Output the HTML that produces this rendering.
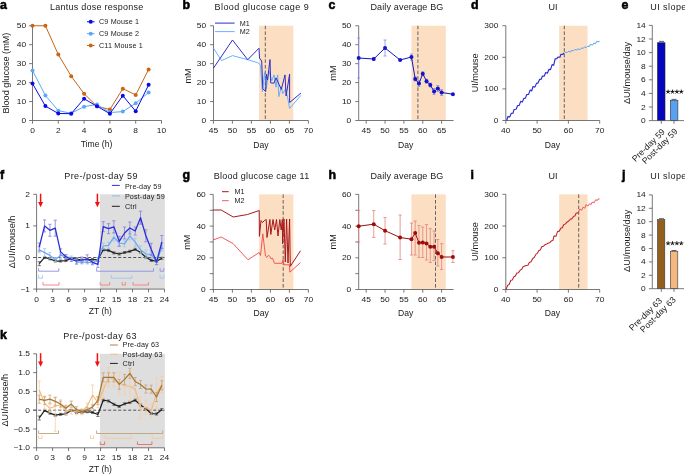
<!DOCTYPE html>
<html><head><meta charset="utf-8"><style>
html,body{margin:0;padding:0;background:#fff;}
svg{display:block;font-family:"Liberation Sans",sans-serif;will-change:transform;}
</style></head><body>
<svg width="685" height="474" viewBox="0 0 685 474">
<rect width="685" height="474" fill="#fff"/>
<text x="0" y="9.2" font-size="12.4" text-anchor="start" fill="#000" font-weight="bold" stroke="#000" stroke-width="0.55">a</text>
<text x="50" y="9.6" font-size="9.0" text-anchor="start" fill="#1a1a1a" font-weight="normal" letter-spacing="0.25" >Lantus dose response</text>
<line x1="32.5" y1="25.75" x2="32.5" y2="120.5" stroke="#555" stroke-width="0.8" />
<line x1="29.1" y1="120.5" x2="32.5" y2="120.5" stroke="#555" stroke-width="0.8" />
<text x="0" y="0" font-size="6.9" text-anchor="end" fill="#1a1a1a" transform="translate(26.2,123) scale(1.22,1)">0</text>
<line x1="29.1" y1="101.55" x2="32.5" y2="101.55" stroke="#555" stroke-width="0.8" />
<text x="0" y="0" font-size="6.9" text-anchor="end" fill="#1a1a1a" transform="translate(26.2,104.05) scale(1.22,1)">10</text>
<line x1="29.1" y1="82.6" x2="32.5" y2="82.6" stroke="#555" stroke-width="0.8" />
<text x="0" y="0" font-size="6.9" text-anchor="end" fill="#1a1a1a" transform="translate(26.2,85.1) scale(1.22,1)">20</text>
<line x1="29.1" y1="63.65" x2="32.5" y2="63.65" stroke="#555" stroke-width="0.8" />
<text x="0" y="0" font-size="6.9" text-anchor="end" fill="#1a1a1a" transform="translate(26.2,66.15) scale(1.22,1)">30</text>
<line x1="29.1" y1="44.7" x2="32.5" y2="44.7" stroke="#555" stroke-width="0.8" />
<text x="0" y="0" font-size="6.9" text-anchor="end" fill="#1a1a1a" transform="translate(26.2,47.2) scale(1.22,1)">40</text>
<line x1="29.1" y1="25.75" x2="32.5" y2="25.75" stroke="#555" stroke-width="0.8" />
<text x="0" y="0" font-size="6.9" text-anchor="end" fill="#1a1a1a" transform="translate(26.2,28.25) scale(1.22,1)">50</text>
<line x1="32.5" y1="120.5" x2="161.5" y2="120.5" stroke="#555" stroke-width="0.8" />
<line x1="32.5" y1="120.5" x2="32.5" y2="123.7" stroke="#555" stroke-width="0.8" />
<text x="0" y="0" font-size="6.9" text-anchor="middle" fill="#1a1a1a" transform="translate(32.5,133.1) scale(1.22,1)">0</text>
<line x1="58.3" y1="120.5" x2="58.3" y2="123.7" stroke="#555" stroke-width="0.8" />
<text x="0" y="0" font-size="6.9" text-anchor="middle" fill="#1a1a1a" transform="translate(58.3,133.1) scale(1.22,1)">2</text>
<line x1="84.1" y1="120.5" x2="84.1" y2="123.7" stroke="#555" stroke-width="0.8" />
<text x="0" y="0" font-size="6.9" text-anchor="middle" fill="#1a1a1a" transform="translate(84.1,133.1) scale(1.22,1)">4</text>
<line x1="109.9" y1="120.5" x2="109.9" y2="123.7" stroke="#555" stroke-width="0.8" />
<text x="0" y="0" font-size="6.9" text-anchor="middle" fill="#1a1a1a" transform="translate(109.9,133.1) scale(1.22,1)">6</text>
<line x1="135.7" y1="120.5" x2="135.7" y2="123.7" stroke="#555" stroke-width="0.8" />
<text x="0" y="0" font-size="6.9" text-anchor="middle" fill="#1a1a1a" transform="translate(135.7,133.1) scale(1.22,1)">8</text>
<line x1="161.5" y1="120.5" x2="161.5" y2="123.7" stroke="#555" stroke-width="0.8" />
<text x="0" y="0" font-size="6.9" text-anchor="middle" fill="#1a1a1a" transform="translate(161.5,133.1) scale(1.22,1)">10</text>
<text x="96.5" y="147" font-size="8.6" text-anchor="middle" fill="#1a1a1a" font-weight="normal" >Time (h)</text>
<text x="0" y="0" font-size="9.1" text-anchor="middle" fill="#1a1a1a" transform="translate(8.9,73.1) rotate(-90)">Blood glucose (mM)</text>
<polyline points="32.5,25.75 45.4,25.75 58.3,54.55 71.2,76.16 84.1,93.78 97,106.29 109.9,109.51 122.8,88.66 135.7,94.92 148.6,69.52" fill="none" stroke="#c86616" stroke-width="1.0" stroke-linejoin="round" />
<circle cx="32.5" cy="25.75" r="2.0" fill="#c86616"/>
<circle cx="45.4" cy="25.75" r="2.0" fill="#c86616"/>
<circle cx="58.3" cy="54.55" r="2.0" fill="#c86616"/>
<circle cx="71.2" cy="76.16" r="2.0" fill="#c86616"/>
<circle cx="84.1" cy="93.78" r="2.0" fill="#c86616"/>
<circle cx="97" cy="106.29" r="2.0" fill="#c86616"/>
<circle cx="109.9" cy="109.51" r="2.0" fill="#c86616"/>
<circle cx="122.8" cy="88.66" r="2.0" fill="#c86616"/>
<circle cx="135.7" cy="94.92" r="2.0" fill="#c86616"/>
<circle cx="148.6" cy="69.52" r="2.0" fill="#c86616"/>
<polyline points="32.5,70.47 45.4,95.49 58.3,110.65 71.2,113.3 84.1,106.67 97,104.58 109.9,112.54 122.8,111.59 135.7,103.26 148.6,92.45" fill="none" stroke="#5aa8f8" stroke-width="1.0" stroke-linejoin="round" />
<circle cx="32.5" cy="70.47" r="2.0" fill="#5aa8f8"/>
<circle cx="45.4" cy="95.49" r="2.0" fill="#5aa8f8"/>
<circle cx="58.3" cy="110.65" r="2.0" fill="#5aa8f8"/>
<circle cx="71.2" cy="113.3" r="2.0" fill="#5aa8f8"/>
<circle cx="84.1" cy="106.67" r="2.0" fill="#5aa8f8"/>
<circle cx="97" cy="104.58" r="2.0" fill="#5aa8f8"/>
<circle cx="109.9" cy="112.54" r="2.0" fill="#5aa8f8"/>
<circle cx="122.8" cy="111.59" r="2.0" fill="#5aa8f8"/>
<circle cx="135.7" cy="103.26" r="2.0" fill="#5aa8f8"/>
<circle cx="148.6" cy="92.45" r="2.0" fill="#5aa8f8"/>
<polyline points="32.5,83.55 45.4,106.1 58.3,113.49 71.2,113.68 84.1,98.71 97,106.29 109.9,113.68 122.8,95.68 135.7,111.21 148.6,84.87" fill="none" stroke="#0a0ae6" stroke-width="1.0" stroke-linejoin="round" />
<circle cx="32.5" cy="83.55" r="2.0" fill="#0a0ae6"/>
<circle cx="45.4" cy="106.1" r="2.0" fill="#0a0ae6"/>
<circle cx="58.3" cy="113.49" r="2.0" fill="#0a0ae6"/>
<circle cx="71.2" cy="113.68" r="2.0" fill="#0a0ae6"/>
<circle cx="84.1" cy="98.71" r="2.0" fill="#0a0ae6"/>
<circle cx="97" cy="106.29" r="2.0" fill="#0a0ae6"/>
<circle cx="109.9" cy="113.68" r="2.0" fill="#0a0ae6"/>
<circle cx="122.8" cy="95.68" r="2.0" fill="#0a0ae6"/>
<circle cx="135.7" cy="111.21" r="2.0" fill="#0a0ae6"/>
<circle cx="148.6" cy="84.87" r="2.0" fill="#0a0ae6"/>
<line x1="87" y1="21.8" x2="94.5" y2="21.8" stroke="#0a0ae6" stroke-width="1.0" />
<circle cx="90.7" cy="21.8" r="2.0" fill="#0a0ae6"/>
<text x="99" y="24.4" font-size="7.2" text-anchor="start" fill="#1a1a1a" font-weight="normal" letter-spacing="0.15" >C9 Mouse 1</text>
<line x1="87" y1="33.65" x2="94.5" y2="33.65" stroke="#5aa8f8" stroke-width="1.0" />
<circle cx="90.7" cy="33.65" r="2.0" fill="#5aa8f8"/>
<text x="99" y="36.25" font-size="7.2" text-anchor="start" fill="#1a1a1a" font-weight="normal" letter-spacing="0.15" >C9 Mouse 2</text>
<line x1="87" y1="45.5" x2="94.5" y2="45.5" stroke="#c86616" stroke-width="1.0" />
<circle cx="90.7" cy="45.5" r="2.0" fill="#c86616"/>
<text x="99" y="48.1" font-size="7.2" text-anchor="start" fill="#1a1a1a" font-weight="normal" letter-spacing="0.15" >C11 Mouse 1</text>
<text x="182.6" y="9.2" font-size="12.4" text-anchor="start" fill="#000" font-weight="bold" stroke="#000" stroke-width="0.55">b</text>
<text x="214.6" y="9.6" font-size="9.0" text-anchor="start" fill="#1a1a1a" font-weight="normal" letter-spacing="0.42" >Blood glucose cage 9</text>
<rect x="259" y="25.75" width="34.3" height="94.75" fill="#fcdec2" />
<line x1="265.3" y1="25.75" x2="265.3" y2="120.5" stroke="#555" stroke-width="0.9" stroke-dasharray="3.6,2"/>
<line x1="213.5" y1="25.75" x2="213.5" y2="120.5" stroke="#555" stroke-width="0.8" />
<line x1="210.1" y1="120.5" x2="213.5" y2="120.5" stroke="#555" stroke-width="0.8" />
<text x="0" y="0" font-size="6.9" text-anchor="end" fill="#1a1a1a" transform="translate(206.1,123) scale(1.22,1)">0</text>
<line x1="210.1" y1="101.55" x2="213.5" y2="101.55" stroke="#555" stroke-width="0.8" />
<text x="0" y="0" font-size="6.9" text-anchor="end" fill="#1a1a1a" transform="translate(206.1,104.05) scale(1.22,1)">10</text>
<line x1="210.1" y1="82.6" x2="213.5" y2="82.6" stroke="#555" stroke-width="0.8" />
<text x="0" y="0" font-size="6.9" text-anchor="end" fill="#1a1a1a" transform="translate(206.1,85.1) scale(1.22,1)">20</text>
<line x1="210.1" y1="63.65" x2="213.5" y2="63.65" stroke="#555" stroke-width="0.8" />
<text x="0" y="0" font-size="6.9" text-anchor="end" fill="#1a1a1a" transform="translate(206.1,66.15) scale(1.22,1)">30</text>
<line x1="210.1" y1="44.7" x2="213.5" y2="44.7" stroke="#555" stroke-width="0.8" />
<text x="0" y="0" font-size="6.9" text-anchor="end" fill="#1a1a1a" transform="translate(206.1,47.2) scale(1.22,1)">40</text>
<line x1="210.1" y1="25.75" x2="213.5" y2="25.75" stroke="#555" stroke-width="0.8" />
<text x="0" y="0" font-size="6.9" text-anchor="end" fill="#1a1a1a" transform="translate(206.1,28.25) scale(1.22,1)">50</text>
<line x1="213.5" y1="120.5" x2="308.4" y2="120.5" stroke="#555" stroke-width="0.8" />
<line x1="213.4" y1="120.5" x2="213.4" y2="123.7" stroke="#555" stroke-width="0.8" />
<text x="0" y="0" font-size="6.9" text-anchor="middle" fill="#1a1a1a" transform="translate(213.4,133.1) scale(1.22,1)">45</text>
<line x1="232.4" y1="120.5" x2="232.4" y2="123.7" stroke="#555" stroke-width="0.8" />
<text x="0" y="0" font-size="6.9" text-anchor="middle" fill="#1a1a1a" transform="translate(232.4,133.1) scale(1.22,1)">50</text>
<line x1="251.4" y1="120.5" x2="251.4" y2="123.7" stroke="#555" stroke-width="0.8" />
<text x="0" y="0" font-size="6.9" text-anchor="middle" fill="#1a1a1a" transform="translate(251.4,133.1) scale(1.22,1)">55</text>
<line x1="270.4" y1="120.5" x2="270.4" y2="123.7" stroke="#555" stroke-width="0.8" />
<text x="0" y="0" font-size="6.9" text-anchor="middle" fill="#1a1a1a" transform="translate(270.4,133.1) scale(1.22,1)">60</text>
<line x1="289.4" y1="120.5" x2="289.4" y2="123.7" stroke="#555" stroke-width="0.8" />
<text x="0" y="0" font-size="6.9" text-anchor="middle" fill="#1a1a1a" transform="translate(289.4,133.1) scale(1.22,1)">65</text>
<line x1="308.4" y1="120.5" x2="308.4" y2="123.7" stroke="#555" stroke-width="0.8" />
<text x="0" y="0" font-size="6.9" text-anchor="middle" fill="#1a1a1a" transform="translate(308.4,133.1) scale(1.22,1)">70</text>
<text x="261" y="147.8" font-size="8.6" text-anchor="middle" fill="#1a1a1a" font-weight="normal" >Day</text>
<text x="0" y="0" font-size="9.1" text-anchor="middle" fill="#1a1a1a" transform="translate(191.3,75.9) rotate(-90)">mM</text>
<polyline points="213.5,48.1 221.5,60.6 232.5,55.6 247.7,59.7 258.6,63 260.5,65.4 262.4,91.6 264.6,72.7 266.3,88.7 269,71.2 271.8,80.7 274,74.9 276,87.2 277.7,74.9 278.8,96.7 281.3,86.5 282.8,93.8 285.7,88.7 288.2,100.4 289.6,108.4 301,95.3" fill="none" stroke="#55aaff" stroke-width="0.9" stroke-linejoin="round" />
<polyline points="213.5,68.1 232.5,40 247.7,59.7 259,48.2 259.5,58.1 261.7,61 262.8,88.7 265.7,91.6 266.3,74.1 267.5,80 270,59.6 270.7,82.9 274,83.2 276,77.8 281.3,89.4 285,74.9 286.1,96 289.6,74.1 289.6,102.5 301,93" fill="none" stroke="#2e2ec8" stroke-width="1.0" stroke-linejoin="round" />
<line x1="215" y1="23.1" x2="234.6" y2="23.1" stroke="#2e2ec8" stroke-width="1.0" />
<text x="239.7" y="25.7" font-size="7.2" text-anchor="start" fill="#1a1a1a" font-weight="normal" >M1</text>
<line x1="215" y1="31.6" x2="234.6" y2="31.6" stroke="#55aaff" stroke-width="0.9" />
<text x="239.7" y="34.2" font-size="7.2" text-anchor="start" fill="#1a1a1a" font-weight="normal" >M2</text>
<text x="328.6" y="9.2" font-size="12.4" text-anchor="start" fill="#000" font-weight="bold" stroke="#000" stroke-width="0.55">c</text>
<text x="370.4" y="9.6" font-size="9.0" text-anchor="start" fill="#1a1a1a" font-weight="normal" letter-spacing="0.16" >Daily average BG</text>
<rect x="411.44" y="25.75" width="34.31" height="94.75" fill="#fcdec2" />
<line x1="417.9" y1="25.75" x2="417.9" y2="120.5" stroke="#555" stroke-width="0.9" stroke-dasharray="3.6,2"/>
<line x1="358.7" y1="25.75" x2="358.7" y2="120.5" stroke="#555" stroke-width="0.8" />
<line x1="355.3" y1="120.5" x2="358.7" y2="120.5" stroke="#555" stroke-width="0.8" />
<text x="0" y="0" font-size="6.9" text-anchor="end" fill="#1a1a1a" transform="translate(351.3,123) scale(1.22,1)">0</text>
<line x1="355.3" y1="101.55" x2="358.7" y2="101.55" stroke="#555" stroke-width="0.8" />
<text x="0" y="0" font-size="6.9" text-anchor="end" fill="#1a1a1a" transform="translate(351.3,104.05) scale(1.22,1)">10</text>
<line x1="355.3" y1="82.6" x2="358.7" y2="82.6" stroke="#555" stroke-width="0.8" />
<text x="0" y="0" font-size="6.9" text-anchor="end" fill="#1a1a1a" transform="translate(351.3,85.1) scale(1.22,1)">20</text>
<line x1="355.3" y1="63.65" x2="358.7" y2="63.65" stroke="#555" stroke-width="0.8" />
<text x="0" y="0" font-size="6.9" text-anchor="end" fill="#1a1a1a" transform="translate(351.3,66.15) scale(1.22,1)">30</text>
<line x1="355.3" y1="44.7" x2="358.7" y2="44.7" stroke="#555" stroke-width="0.8" />
<text x="0" y="0" font-size="6.9" text-anchor="end" fill="#1a1a1a" transform="translate(351.3,47.2) scale(1.22,1)">40</text>
<line x1="355.3" y1="25.75" x2="358.7" y2="25.75" stroke="#555" stroke-width="0.8" />
<text x="0" y="0" font-size="6.9" text-anchor="end" fill="#1a1a1a" transform="translate(351.3,28.25) scale(1.22,1)">50</text>
<line x1="358.7" y1="120.5" x2="453.6" y2="120.5" stroke="#555" stroke-width="0.8" />
<line x1="366.2" y1="120.5" x2="366.2" y2="123.7" stroke="#555" stroke-width="0.8" />
<text x="0" y="0" font-size="6.9" text-anchor="middle" fill="#1a1a1a" transform="translate(366.2,133.1) scale(1.22,1)">45</text>
<line x1="385.05" y1="120.5" x2="385.05" y2="123.7" stroke="#555" stroke-width="0.8" />
<text x="0" y="0" font-size="6.9" text-anchor="middle" fill="#1a1a1a" transform="translate(385.05,133.1) scale(1.22,1)">50</text>
<line x1="403.9" y1="120.5" x2="403.9" y2="123.7" stroke="#555" stroke-width="0.8" />
<text x="0" y="0" font-size="6.9" text-anchor="middle" fill="#1a1a1a" transform="translate(403.9,133.1) scale(1.22,1)">55</text>
<line x1="422.75" y1="120.5" x2="422.75" y2="123.7" stroke="#555" stroke-width="0.8" />
<text x="0" y="0" font-size="6.9" text-anchor="middle" fill="#1a1a1a" transform="translate(422.75,133.1) scale(1.22,1)">60</text>
<line x1="441.6" y1="120.5" x2="441.6" y2="123.7" stroke="#555" stroke-width="0.8" />
<text x="0" y="0" font-size="6.9" text-anchor="middle" fill="#1a1a1a" transform="translate(441.6,133.1) scale(1.22,1)">65</text>
<text x="405.6" y="147.8" font-size="8.6" text-anchor="middle" fill="#1a1a1a" font-weight="normal" >Day</text>
<text x="0" y="0" font-size="9.1" text-anchor="middle" fill="#1a1a1a" transform="translate(335.9,73.1) rotate(-90)">mM</text>
<line x1="358.66" y1="38" x2="358.66" y2="78" stroke="#8a8ae4" stroke-width="0.8" />
<line x1="357.16" y1="38" x2="360.16" y2="38" stroke="#8a8ae4" stroke-width="0.8" />
<line x1="357.16" y1="78" x2="360.16" y2="78" stroke="#8a8ae4" stroke-width="0.8" />
<line x1="373.74" y1="57.5" x2="373.74" y2="60.5" stroke="#8a8ae4" stroke-width="0.8" />
<line x1="372.24" y1="57.5" x2="375.24" y2="57.5" stroke="#8a8ae4" stroke-width="0.8" />
<line x1="372.24" y1="60.5" x2="375.24" y2="60.5" stroke="#8a8ae4" stroke-width="0.8" />
<line x1="385.05" y1="40" x2="385.05" y2="56" stroke="#8a8ae4" stroke-width="0.8" />
<line x1="383.55" y1="40" x2="386.55" y2="40" stroke="#8a8ae4" stroke-width="0.8" />
<line x1="383.55" y1="56" x2="386.55" y2="56" stroke="#8a8ae4" stroke-width="0.8" />
<line x1="411.44" y1="54" x2="411.44" y2="60" stroke="#8a8ae4" stroke-width="0.8" />
<line x1="409.94" y1="54" x2="412.94" y2="54" stroke="#8a8ae4" stroke-width="0.8" />
<line x1="409.94" y1="60" x2="412.94" y2="60" stroke="#8a8ae4" stroke-width="0.8" />
<line x1="415.21" y1="77" x2="415.21" y2="81" stroke="#8a8ae4" stroke-width="0.8" />
<line x1="413.71" y1="77" x2="416.71" y2="77" stroke="#8a8ae4" stroke-width="0.8" />
<line x1="413.71" y1="81" x2="416.71" y2="81" stroke="#8a8ae4" stroke-width="0.8" />
<line x1="418.98" y1="80.5" x2="418.98" y2="86.5" stroke="#8a8ae4" stroke-width="0.8" />
<line x1="417.48" y1="80.5" x2="420.48" y2="80.5" stroke="#8a8ae4" stroke-width="0.8" />
<line x1="417.48" y1="86.5" x2="420.48" y2="86.5" stroke="#8a8ae4" stroke-width="0.8" />
<line x1="422.75" y1="71.7" x2="422.75" y2="75.7" stroke="#8a8ae4" stroke-width="0.8" />
<line x1="421.25" y1="71.7" x2="424.25" y2="71.7" stroke="#8a8ae4" stroke-width="0.8" />
<line x1="421.25" y1="75.7" x2="424.25" y2="75.7" stroke="#8a8ae4" stroke-width="0.8" />
<line x1="426.52" y1="79.2" x2="426.52" y2="83.2" stroke="#8a8ae4" stroke-width="0.8" />
<line x1="425.02" y1="79.2" x2="428.02" y2="79.2" stroke="#8a8ae4" stroke-width="0.8" />
<line x1="425.02" y1="83.2" x2="428.02" y2="83.2" stroke="#8a8ae4" stroke-width="0.8" />
<line x1="430.29" y1="83" x2="430.29" y2="87" stroke="#8a8ae4" stroke-width="0.8" />
<line x1="428.79" y1="83" x2="431.79" y2="83" stroke="#8a8ae4" stroke-width="0.8" />
<line x1="428.79" y1="87" x2="431.79" y2="87" stroke="#8a8ae4" stroke-width="0.8" />
<line x1="434.06" y1="88.5" x2="434.06" y2="94.5" stroke="#8a8ae4" stroke-width="0.8" />
<line x1="432.56" y1="88.5" x2="435.56" y2="88.5" stroke="#8a8ae4" stroke-width="0.8" />
<line x1="432.56" y1="94.5" x2="435.56" y2="94.5" stroke="#8a8ae4" stroke-width="0.8" />
<line x1="437.83" y1="85.5" x2="437.83" y2="91.5" stroke="#8a8ae4" stroke-width="0.8" />
<line x1="436.33" y1="85.5" x2="439.33" y2="85.5" stroke="#8a8ae4" stroke-width="0.8" />
<line x1="436.33" y1="91.5" x2="439.33" y2="91.5" stroke="#8a8ae4" stroke-width="0.8" />
<line x1="441.6" y1="89.5" x2="441.6" y2="95.5" stroke="#8a8ae4" stroke-width="0.8" />
<line x1="440.1" y1="89.5" x2="443.1" y2="89.5" stroke="#8a8ae4" stroke-width="0.8" />
<line x1="440.1" y1="95.5" x2="443.1" y2="95.5" stroke="#8a8ae4" stroke-width="0.8" />
<polyline points="358.66,58 373.74,59 385.05,48 400.13,60 411.44,57 415.21,79 418.98,83.5 422.75,73.7 426.52,81.2 430.29,85 434.06,91.5 437.83,88.5 441.6,92.5 452.91,94.2" fill="none" stroke="#1414c4" stroke-width="1.0" stroke-linejoin="round" />
<circle cx="358.66" cy="58" r="2.0" fill="#1414c4"/>
<circle cx="373.74" cy="59" r="2.0" fill="#1414c4"/>
<circle cx="385.05" cy="48" r="2.0" fill="#1414c4"/>
<circle cx="400.13" cy="60" r="2.0" fill="#1414c4"/>
<circle cx="411.44" cy="57" r="2.0" fill="#1414c4"/>
<circle cx="415.21" cy="79" r="2.0" fill="#1414c4"/>
<circle cx="418.98" cy="83.5" r="2.0" fill="#1414c4"/>
<circle cx="422.75" cy="73.7" r="2.0" fill="#1414c4"/>
<circle cx="426.52" cy="81.2" r="2.0" fill="#1414c4"/>
<circle cx="430.29" cy="85" r="2.0" fill="#1414c4"/>
<circle cx="434.06" cy="91.5" r="2.0" fill="#1414c4"/>
<circle cx="437.83" cy="88.5" r="2.0" fill="#1414c4"/>
<circle cx="441.6" cy="92.5" r="2.0" fill="#1414c4"/>
<circle cx="452.91" cy="94.2" r="2.0" fill="#1414c4"/>
<text x="471" y="9.2" font-size="12.4" text-anchor="start" fill="#000" font-weight="bold" stroke="#000" stroke-width="0.55">d</text>
<text x="553" y="9.6" font-size="9.0" text-anchor="middle" fill="#1a1a1a" font-weight="normal" >UI</text>
<rect x="559.17" y="25.75" width="28.33" height="94.75" fill="#fcdec2" />
<line x1="564.3" y1="25.75" x2="564.3" y2="120.5" stroke="#555" stroke-width="0.9" stroke-dasharray="3.6,2"/>
<line x1="505.8" y1="25.7" x2="505.8" y2="120.5" stroke="#555" stroke-width="0.8" />
<line x1="502.4" y1="120.5" x2="505.8" y2="120.5" stroke="#555" stroke-width="0.8" />
<text x="0" y="0" font-size="6.9" text-anchor="end" fill="#1a1a1a" transform="translate(498.4,123) scale(1.22,1)">0</text>
<line x1="502.4" y1="88.9" x2="505.8" y2="88.9" stroke="#555" stroke-width="0.8" />
<text x="0" y="0" font-size="6.9" text-anchor="end" fill="#1a1a1a" transform="translate(498.4,91.4) scale(1.22,1)">100</text>
<line x1="502.4" y1="57.3" x2="505.8" y2="57.3" stroke="#555" stroke-width="0.8" />
<text x="0" y="0" font-size="6.9" text-anchor="end" fill="#1a1a1a" transform="translate(498.4,59.8) scale(1.22,1)">200</text>
<line x1="502.4" y1="25.7" x2="505.8" y2="25.7" stroke="#555" stroke-width="0.8" />
<text x="0" y="0" font-size="6.9" text-anchor="end" fill="#1a1a1a" transform="translate(498.4,28.2) scale(1.22,1)">300</text>
<line x1="505.8" y1="120.5" x2="599.7" y2="120.5" stroke="#555" stroke-width="0.8" />
<line x1="505.8" y1="120.5" x2="505.8" y2="123.7" stroke="#555" stroke-width="0.8" />
<text x="0" y="0" font-size="6.9" text-anchor="middle" fill="#1a1a1a" transform="translate(505.8,133.1) scale(1.22,1)">40</text>
<line x1="537.1" y1="120.5" x2="537.1" y2="123.7" stroke="#555" stroke-width="0.8" />
<text x="0" y="0" font-size="6.9" text-anchor="middle" fill="#1a1a1a" transform="translate(537.1,133.1) scale(1.22,1)">50</text>
<line x1="568.4" y1="120.5" x2="568.4" y2="123.7" stroke="#555" stroke-width="0.8" />
<text x="0" y="0" font-size="6.9" text-anchor="middle" fill="#1a1a1a" transform="translate(568.4,133.1) scale(1.22,1)">60</text>
<line x1="599.7" y1="120.5" x2="599.7" y2="123.7" stroke="#555" stroke-width="0.8" />
<text x="0" y="0" font-size="6.9" text-anchor="middle" fill="#1a1a1a" transform="translate(599.7,133.1) scale(1.22,1)">70</text>
<text x="552.4" y="147.8" font-size="8.6" text-anchor="middle" fill="#1a1a1a" font-weight="normal" >Day</text>
<text x="0" y="0" font-size="9.1" text-anchor="middle" fill="#1a1a1a" transform="translate(478.4,72.8) rotate(-90)">UI/mouse</text>
<polyline points="506.7,120.5 507.81,116.64 509.83,116.83 511.24,113.35 512.96,113.24 514.08,109.46 516.09,109.29 517.67,105.51 519.22,105.37 520.64,101.39 522.35,101.98 523.8,98.4 525.48,98.14 526.64,94.69 528.61,94.33 530.1,90.15 531.74,90.85 532.97,86.47 534.87,87.11 536.48,83.38 538,82.92 539.68,79.31 541.13,79.22 542.45,76.05 544.26,76.09 545.64,72.52 547.39,73.17 548.99,69.32 550.52,69.58 552.12,64.6 553.65,65.28 555.13,58.88 556.78,58.61 557.92,57.07 559.91,57.23 560.9,54.32 563.04,54.35 563.5,53.4 564.3,53.23" fill="none" stroke="#2a2ad2" stroke-width="1.15" stroke-linejoin="round" />
<polyline points="564.3,53.5 565.7,51.92 567.43,52.54 569.05,51.01 570.56,52.11 571.72,50.35 573.69,50.75 574.77,49.5 576.82,50.04 577.77,48.76 579.95,49.7 581.58,47.88 583.08,48.54 584.51,46.87 586.21,47.7 587.87,45.89 589.34,46.69 590.45,44.18 592.47,45.11 593.82,43.14 595.6,43.68 596.54,41.33 598.73,41.9 598.99,41.12 599.3,41.81" fill="none" stroke="#5ca4f2" stroke-width="1.0" stroke-linejoin="round" />
<text x="621.4" y="9.2" font-size="12.4" text-anchor="start" fill="#000" font-weight="bold" stroke="#000" stroke-width="0.55">e</text>
<text x="650.2" y="9.6" font-size="9.0" text-anchor="start" fill="#1a1a1a" font-weight="normal" letter-spacing="0.45" >UI slope</text>
<rect x="657.5" y="42.74" width="7.5" height="77.86" fill="#0606c0" stroke="#222" stroke-width="0.6"/>
<rect x="670.3" y="100.27" width="7.6" height="20.33" fill="#5aa0f0" stroke="#333" stroke-width="0.6"/>
<line x1="659" y1="41.38" x2="664" y2="41.38" stroke="#333" stroke-width="0.8" />
<line x1="671.5" y1="99.38" x2="676.5" y2="99.38" stroke="#333" stroke-width="0.8" />
<line x1="652.3" y1="25.4" x2="652.3" y2="120.6" stroke="#555" stroke-width="0.8" />
<line x1="648.9" y1="120.6" x2="652.3" y2="120.6" stroke="#555" stroke-width="0.8" />
<text x="0" y="0" font-size="6.9" text-anchor="end" fill="#1a1a1a" transform="translate(645.8,123.1) scale(1.22,1)">0</text>
<line x1="648.9" y1="107" x2="652.3" y2="107" stroke="#555" stroke-width="0.8" />
<text x="0" y="0" font-size="6.9" text-anchor="end" fill="#1a1a1a" transform="translate(645.8,109.5) scale(1.22,1)">2</text>
<line x1="648.9" y1="93.4" x2="652.3" y2="93.4" stroke="#555" stroke-width="0.8" />
<text x="0" y="0" font-size="6.9" text-anchor="end" fill="#1a1a1a" transform="translate(645.8,95.9) scale(1.22,1)">4</text>
<line x1="648.9" y1="79.8" x2="652.3" y2="79.8" stroke="#555" stroke-width="0.8" />
<text x="0" y="0" font-size="6.9" text-anchor="end" fill="#1a1a1a" transform="translate(645.8,82.3) scale(1.22,1)">6</text>
<line x1="648.9" y1="66.2" x2="652.3" y2="66.2" stroke="#555" stroke-width="0.8" />
<text x="0" y="0" font-size="6.9" text-anchor="end" fill="#1a1a1a" transform="translate(645.8,68.7) scale(1.22,1)">8</text>
<line x1="648.9" y1="52.6" x2="652.3" y2="52.6" stroke="#555" stroke-width="0.8" />
<text x="0" y="0" font-size="6.9" text-anchor="end" fill="#1a1a1a" transform="translate(645.8,55.1) scale(1.22,1)">10</text>
<line x1="648.9" y1="39" x2="652.3" y2="39" stroke="#555" stroke-width="0.8" />
<text x="0" y="0" font-size="6.9" text-anchor="end" fill="#1a1a1a" transform="translate(645.8,41.5) scale(1.22,1)">12</text>
<line x1="648.9" y1="25.4" x2="652.3" y2="25.4" stroke="#555" stroke-width="0.8" />
<text x="0" y="0" font-size="6.9" text-anchor="end" fill="#1a1a1a" transform="translate(645.8,27.9) scale(1.22,1)">14</text>
<line x1="652.3" y1="120.6" x2="684" y2="120.6" stroke="#555" stroke-width="0.8" />
<line x1="661.3" y1="120.6" x2="661.3" y2="123.8" stroke="#555" stroke-width="0.8" />
<line x1="674" y1="120.6" x2="674" y2="123.8" stroke="#555" stroke-width="0.8" />
<path d="M668.1,91.8 L668.1,90.05 M668.1,91.8 L669.76,91.26 M668.1,91.8 L669.13,93.22 M668.1,91.8 L667.07,93.22 M668.1,91.8 L666.44,91.26 " stroke="#1a1a1a" stroke-width="1.0" stroke-linecap="round" fill="none"/>
<path d="M672.5,91.8 L672.5,90.05 M672.5,91.8 L674.16,91.26 M672.5,91.8 L673.53,93.22 M672.5,91.8 L671.47,93.22 M672.5,91.8 L670.84,91.26 " stroke="#1a1a1a" stroke-width="1.0" stroke-linecap="round" fill="none"/>
<path d="M676.9,91.8 L676.9,90.05 M676.9,91.8 L678.56,91.26 M676.9,91.8 L677.93,93.22 M676.9,91.8 L675.87,93.22 M676.9,91.8 L675.24,91.26 " stroke="#1a1a1a" stroke-width="1.0" stroke-linecap="round" fill="none"/>
<path d="M681.3,91.8 L681.3,90.05 M681.3,91.8 L682.96,91.26 M681.3,91.8 L682.33,93.22 M681.3,91.8 L680.27,93.22 M681.3,91.8 L679.64,91.26 " stroke="#1a1a1a" stroke-width="1.0" stroke-linecap="round" fill="none"/>
<text x="0" y="0" font-size="9.1" text-anchor="middle" fill="#1a1a1a" transform="translate(629.6,73) rotate(-90)">&#916;UI/mouse/day</text>
<text x="0" y="0" font-size="8.7" text-anchor="end" fill="#1a1a1a" transform="translate(665.5,132.3) rotate(-45)">Pre-day 59</text>
<text x="0" y="0" font-size="8.7" text-anchor="end" fill="#1a1a1a" transform="translate(678.2,131.8) rotate(-45)">Post-day 59</text>
<text x="182.6" y="179" font-size="12.4" text-anchor="start" fill="#000" font-weight="bold" stroke="#000" stroke-width="0.55">g</text>
<text x="213.8" y="179.3" font-size="9.0" text-anchor="start" fill="#1a1a1a" font-weight="normal" letter-spacing="0.25" >Blood glucose cage 11</text>
<rect x="259.2" y="194.4" width="34.2" height="95.1" fill="#fcdec2" />
<line x1="283.2" y1="194.4" x2="283.2" y2="289.5" stroke="#555" stroke-width="0.9" stroke-dasharray="3.6,2"/>
<line x1="213.2" y1="194.4" x2="213.2" y2="289.5" stroke="#555" stroke-width="0.8" />
<line x1="209.8" y1="289.5" x2="213.2" y2="289.5" stroke="#555" stroke-width="0.8" />
<text x="0" y="0" font-size="6.9" text-anchor="end" fill="#1a1a1a" transform="translate(205.8,292) scale(1.22,1)">0</text>
<line x1="209.8" y1="273.65" x2="213.2" y2="273.65" stroke="#555" stroke-width="0.8" />
<line x1="209.8" y1="257.8" x2="213.2" y2="257.8" stroke="#555" stroke-width="0.8" />
<text x="0" y="0" font-size="6.9" text-anchor="end" fill="#1a1a1a" transform="translate(205.8,260.3) scale(1.22,1)">20</text>
<line x1="209.8" y1="241.95" x2="213.2" y2="241.95" stroke="#555" stroke-width="0.8" />
<line x1="209.8" y1="226.1" x2="213.2" y2="226.1" stroke="#555" stroke-width="0.8" />
<text x="0" y="0" font-size="6.9" text-anchor="end" fill="#1a1a1a" transform="translate(205.8,228.6) scale(1.22,1)">40</text>
<line x1="209.8" y1="210.25" x2="213.2" y2="210.25" stroke="#555" stroke-width="0.8" />
<line x1="209.8" y1="194.4" x2="213.2" y2="194.4" stroke="#555" stroke-width="0.8" />
<text x="0" y="0" font-size="6.9" text-anchor="end" fill="#1a1a1a" transform="translate(205.8,196.9) scale(1.22,1)">60</text>
<line x1="213.2" y1="289.5" x2="308.4" y2="289.5" stroke="#555" stroke-width="0.8" />
<line x1="213.4" y1="289.5" x2="213.4" y2="292.7" stroke="#555" stroke-width="0.8" />
<text x="0" y="0" font-size="6.9" text-anchor="middle" fill="#1a1a1a" transform="translate(213.4,302.1) scale(1.22,1)">45</text>
<line x1="232.4" y1="289.5" x2="232.4" y2="292.7" stroke="#555" stroke-width="0.8" />
<text x="0" y="0" font-size="6.9" text-anchor="middle" fill="#1a1a1a" transform="translate(232.4,302.1) scale(1.22,1)">50</text>
<line x1="251.4" y1="289.5" x2="251.4" y2="292.7" stroke="#555" stroke-width="0.8" />
<text x="0" y="0" font-size="6.9" text-anchor="middle" fill="#1a1a1a" transform="translate(251.4,302.1) scale(1.22,1)">55</text>
<line x1="270.4" y1="289.5" x2="270.4" y2="292.7" stroke="#555" stroke-width="0.8" />
<text x="0" y="0" font-size="6.9" text-anchor="middle" fill="#1a1a1a" transform="translate(270.4,302.1) scale(1.22,1)">60</text>
<line x1="289.4" y1="289.5" x2="289.4" y2="292.7" stroke="#555" stroke-width="0.8" />
<text x="0" y="0" font-size="6.9" text-anchor="middle" fill="#1a1a1a" transform="translate(289.4,302.1) scale(1.22,1)">65</text>
<line x1="308.4" y1="289.5" x2="308.4" y2="292.7" stroke="#555" stroke-width="0.8" />
<text x="0" y="0" font-size="6.9" text-anchor="middle" fill="#1a1a1a" transform="translate(308.4,302.1) scale(1.22,1)">70</text>
<text x="261.2" y="316.2" font-size="8.6" text-anchor="middle" fill="#1a1a1a" font-weight="normal" >Day</text>
<text x="0" y="0" font-size="9.1" text-anchor="middle" fill="#1a1a1a" transform="translate(189.9,242.2) rotate(-90)">mM</text>
<polyline points="213,240 221.2,237 233.2,243.7 248,259.8 259.2,252.5 260.5,255.5 262.8,233.8 264.5,247.8 265.5,256 267,257.4 268.5,255.2 270,256.7 271,258.9 272.5,258.2 274.5,263.3 282,263.3 283,259.7 284,264.8 289.5,264.8 289.8,272.2 300.5,262.6" fill="none" stroke="#f0484c" stroke-width="0.9" stroke-linejoin="round" />
<polyline points="213,210 221.2,210 233.2,217 247.5,214.5 259.2,210.5 259.4,236.4 261,220.5 262.5,222.5 264.5,220.5 266.2,219.5 267,237.5 269.9,219.5 270.8,234.5 273,219.5 274.7,230 276.5,219.5 278,236 279.8,219.5 281.2,230 282.3,219.5 282.6,243.8 284,219 285.3,262 286.6,219 288,263 289.6,219 290.3,266.3 300.5,250.8" fill="none" stroke="#a8181c" stroke-width="1.0" stroke-linejoin="round" />
<line x1="222" y1="191.7" x2="228.7" y2="191.7" stroke="#a8181c" stroke-width="1.0" />
<text x="234.5" y="194.3" font-size="7.2" text-anchor="start" fill="#1a1a1a" font-weight="normal" >M1</text>
<line x1="222" y1="200.7" x2="228.7" y2="200.7" stroke="#f0484c" stroke-width="0.9" />
<text x="234.5" y="203.3" font-size="7.2" text-anchor="start" fill="#1a1a1a" font-weight="normal" >M2</text>
<text x="328.6" y="179" font-size="12.4" text-anchor="start" fill="#000" font-weight="bold" stroke="#000" stroke-width="0.55">h</text>
<text x="370.4" y="179.3" font-size="9.0" text-anchor="start" fill="#1a1a1a" font-weight="normal" letter-spacing="0.16" >Daily average BG</text>
<rect x="411.44" y="194.4" width="34.31" height="95.1" fill="#fcdec2" />
<line x1="435.5" y1="194.4" x2="435.5" y2="289.5" stroke="#555" stroke-width="0.9" stroke-dasharray="3.6,2"/>
<line x1="358.7" y1="194.4" x2="358.7" y2="289.5" stroke="#555" stroke-width="0.8" />
<line x1="355.3" y1="289.5" x2="358.7" y2="289.5" stroke="#555" stroke-width="0.8" />
<text x="0" y="0" font-size="6.9" text-anchor="end" fill="#1a1a1a" transform="translate(351.3,292) scale(1.22,1)">0</text>
<line x1="355.3" y1="273.65" x2="358.7" y2="273.65" stroke="#555" stroke-width="0.8" />
<line x1="355.3" y1="257.8" x2="358.7" y2="257.8" stroke="#555" stroke-width="0.8" />
<text x="0" y="0" font-size="6.9" text-anchor="end" fill="#1a1a1a" transform="translate(351.3,260.3) scale(1.22,1)">20</text>
<line x1="355.3" y1="241.95" x2="358.7" y2="241.95" stroke="#555" stroke-width="0.8" />
<line x1="355.3" y1="226.1" x2="358.7" y2="226.1" stroke="#555" stroke-width="0.8" />
<text x="0" y="0" font-size="6.9" text-anchor="end" fill="#1a1a1a" transform="translate(351.3,228.6) scale(1.22,1)">40</text>
<line x1="355.3" y1="210.25" x2="358.7" y2="210.25" stroke="#555" stroke-width="0.8" />
<line x1="355.3" y1="194.4" x2="358.7" y2="194.4" stroke="#555" stroke-width="0.8" />
<text x="0" y="0" font-size="6.9" text-anchor="end" fill="#1a1a1a" transform="translate(351.3,196.9) scale(1.22,1)">60</text>
<line x1="358.7" y1="289.5" x2="453.6" y2="289.5" stroke="#555" stroke-width="0.8" />
<line x1="366.2" y1="289.5" x2="366.2" y2="292.7" stroke="#555" stroke-width="0.8" />
<text x="0" y="0" font-size="6.9" text-anchor="middle" fill="#1a1a1a" transform="translate(366.2,302.1) scale(1.22,1)">45</text>
<line x1="385.05" y1="289.5" x2="385.05" y2="292.7" stroke="#555" stroke-width="0.8" />
<text x="0" y="0" font-size="6.9" text-anchor="middle" fill="#1a1a1a" transform="translate(385.05,302.1) scale(1.22,1)">50</text>
<line x1="403.9" y1="289.5" x2="403.9" y2="292.7" stroke="#555" stroke-width="0.8" />
<text x="0" y="0" font-size="6.9" text-anchor="middle" fill="#1a1a1a" transform="translate(403.9,302.1) scale(1.22,1)">55</text>
<line x1="422.75" y1="289.5" x2="422.75" y2="292.7" stroke="#555" stroke-width="0.8" />
<text x="0" y="0" font-size="6.9" text-anchor="middle" fill="#1a1a1a" transform="translate(422.75,302.1) scale(1.22,1)">60</text>
<line x1="441.6" y1="289.5" x2="441.6" y2="292.7" stroke="#555" stroke-width="0.8" />
<text x="0" y="0" font-size="6.9" text-anchor="middle" fill="#1a1a1a" transform="translate(441.6,302.1) scale(1.22,1)">65</text>
<text x="405.6" y="316.2" font-size="8.6" text-anchor="middle" fill="#1a1a1a" font-weight="normal" >Day</text>
<text x="0" y="0" font-size="9.1" text-anchor="middle" fill="#1a1a1a" transform="translate(335.7,241.8) rotate(-90)">mM</text>
<line x1="358.66" y1="210.5" x2="358.66" y2="242" stroke="#e08484" stroke-width="0.8" />
<line x1="357.06" y1="210.5" x2="360.26" y2="210.5" stroke="#e08484" stroke-width="0.8" />
<line x1="357.06" y1="242" x2="360.26" y2="242" stroke="#e08484" stroke-width="0.8" />
<line x1="373.74" y1="210.5" x2="373.74" y2="237.5" stroke="#e08484" stroke-width="0.8" />
<line x1="372.14" y1="210.5" x2="375.34" y2="210.5" stroke="#e08484" stroke-width="0.8" />
<line x1="372.14" y1="237.5" x2="375.34" y2="237.5" stroke="#e08484" stroke-width="0.8" />
<line x1="385.05" y1="217.5" x2="385.05" y2="244" stroke="#e08484" stroke-width="0.8" />
<line x1="383.45" y1="217.5" x2="386.65" y2="217.5" stroke="#e08484" stroke-width="0.8" />
<line x1="383.45" y1="244" x2="386.65" y2="244" stroke="#e08484" stroke-width="0.8" />
<line x1="400.13" y1="215" x2="400.13" y2="259.5" stroke="#e08484" stroke-width="0.8" />
<line x1="398.53" y1="215" x2="401.73" y2="215" stroke="#e08484" stroke-width="0.8" />
<line x1="398.53" y1="259.5" x2="401.73" y2="259.5" stroke="#e08484" stroke-width="0.8" />
<line x1="411.44" y1="223" x2="411.44" y2="255" stroke="#e08484" stroke-width="0.8" />
<line x1="409.84" y1="223" x2="413.04" y2="223" stroke="#e08484" stroke-width="0.8" />
<line x1="409.84" y1="255" x2="413.04" y2="255" stroke="#e08484" stroke-width="0.8" />
<line x1="415.21" y1="221" x2="415.21" y2="255" stroke="#e08484" stroke-width="0.8" />
<line x1="413.61" y1="221" x2="416.81" y2="221" stroke="#e08484" stroke-width="0.8" />
<line x1="413.61" y1="255" x2="416.81" y2="255" stroke="#e08484" stroke-width="0.8" />
<line x1="418.98" y1="225.5" x2="418.98" y2="257.5" stroke="#e08484" stroke-width="0.8" />
<line x1="417.38" y1="225.5" x2="420.58" y2="225.5" stroke="#e08484" stroke-width="0.8" />
<line x1="417.38" y1="257.5" x2="420.58" y2="257.5" stroke="#e08484" stroke-width="0.8" />
<line x1="422.75" y1="227" x2="422.75" y2="257.5" stroke="#e08484" stroke-width="0.8" />
<line x1="421.15" y1="227" x2="424.35" y2="227" stroke="#e08484" stroke-width="0.8" />
<line x1="421.15" y1="257.5" x2="424.35" y2="257.5" stroke="#e08484" stroke-width="0.8" />
<line x1="426.52" y1="224.5" x2="426.52" y2="260" stroke="#e08484" stroke-width="0.8" />
<line x1="424.92" y1="224.5" x2="428.12" y2="224.5" stroke="#e08484" stroke-width="0.8" />
<line x1="424.92" y1="260" x2="428.12" y2="260" stroke="#e08484" stroke-width="0.8" />
<line x1="430.29" y1="228.7" x2="430.29" y2="262.5" stroke="#e08484" stroke-width="0.8" />
<line x1="428.69" y1="228.7" x2="431.89" y2="228.7" stroke="#e08484" stroke-width="0.8" />
<line x1="428.69" y1="262.5" x2="431.89" y2="262.5" stroke="#e08484" stroke-width="0.8" />
<line x1="434.06" y1="231" x2="434.06" y2="260.5" stroke="#e08484" stroke-width="0.8" />
<line x1="432.46" y1="231" x2="435.66" y2="231" stroke="#e08484" stroke-width="0.8" />
<line x1="432.46" y1="260.5" x2="435.66" y2="260.5" stroke="#e08484" stroke-width="0.8" />
<line x1="437.83" y1="239.5" x2="437.83" y2="266" stroke="#e08484" stroke-width="0.8" />
<line x1="436.23" y1="239.5" x2="439.43" y2="239.5" stroke="#e08484" stroke-width="0.8" />
<line x1="436.23" y1="266" x2="439.43" y2="266" stroke="#e08484" stroke-width="0.8" />
<line x1="441.6" y1="243.7" x2="441.6" y2="269.5" stroke="#e08484" stroke-width="0.8" />
<line x1="440" y1="243.7" x2="443.2" y2="243.7" stroke="#e08484" stroke-width="0.8" />
<line x1="440" y1="269.5" x2="443.2" y2="269.5" stroke="#e08484" stroke-width="0.8" />
<line x1="452.91" y1="250.7" x2="452.91" y2="262.5" stroke="#e08484" stroke-width="0.8" />
<line x1="451.31" y1="250.7" x2="454.51" y2="250.7" stroke="#e08484" stroke-width="0.8" />
<line x1="451.31" y1="262.5" x2="454.51" y2="262.5" stroke="#e08484" stroke-width="0.8" />
<polyline points="358.66,226.2 373.74,224.2 385.05,230.7 400.13,237.5 411.44,239.2 415.21,233.1 418.98,242.8 422.75,242.5 426.52,243.5 430.29,246.7 434.06,246.7 437.83,253.2 441.6,257 452.91,257" fill="none" stroke="#9c0c0c" stroke-width="1.0" stroke-linejoin="round" />
<circle cx="358.66" cy="226.2" r="2.0" fill="#9c0c0c"/>
<circle cx="373.74" cy="224.2" r="2.0" fill="#9c0c0c"/>
<circle cx="385.05" cy="230.7" r="2.0" fill="#9c0c0c"/>
<circle cx="400.13" cy="237.5" r="2.0" fill="#9c0c0c"/>
<circle cx="411.44" cy="239.2" r="2.0" fill="#9c0c0c"/>
<circle cx="415.21" cy="233.1" r="2.0" fill="#9c0c0c"/>
<circle cx="418.98" cy="242.8" r="2.0" fill="#9c0c0c"/>
<circle cx="422.75" cy="242.5" r="2.0" fill="#9c0c0c"/>
<circle cx="426.52" cy="243.5" r="2.0" fill="#9c0c0c"/>
<circle cx="430.29" cy="246.7" r="2.0" fill="#9c0c0c"/>
<circle cx="434.06" cy="246.7" r="2.0" fill="#9c0c0c"/>
<circle cx="437.83" cy="253.2" r="2.0" fill="#9c0c0c"/>
<circle cx="441.6" cy="257" r="2.0" fill="#9c0c0c"/>
<circle cx="452.91" cy="257" r="2.0" fill="#9c0c0c"/>
<text x="470.6" y="179" font-size="12.4" text-anchor="start" fill="#000" font-weight="bold" stroke="#000" stroke-width="0.55">i</text>
<text x="553" y="179.3" font-size="9.0" text-anchor="middle" fill="#1a1a1a" font-weight="normal" >UI</text>
<rect x="559.17" y="194.4" width="28.33" height="95.1" fill="#fcdec2" />
<line x1="578.7" y1="194.4" x2="578.7" y2="289.5" stroke="#555" stroke-width="0.9" stroke-dasharray="3.6,2"/>
<line x1="505.8" y1="194.31" x2="505.8" y2="289.5" stroke="#555" stroke-width="0.8" />
<line x1="502.4" y1="289.5" x2="505.8" y2="289.5" stroke="#555" stroke-width="0.8" />
<text x="0" y="0" font-size="6.9" text-anchor="end" fill="#1a1a1a" transform="translate(498.4,292) scale(1.22,1)">0</text>
<line x1="502.4" y1="257.77" x2="505.8" y2="257.77" stroke="#555" stroke-width="0.8" />
<text x="0" y="0" font-size="6.9" text-anchor="end" fill="#1a1a1a" transform="translate(498.4,260.27) scale(1.22,1)">100</text>
<line x1="502.4" y1="226.04" x2="505.8" y2="226.04" stroke="#555" stroke-width="0.8" />
<text x="0" y="0" font-size="6.9" text-anchor="end" fill="#1a1a1a" transform="translate(498.4,228.54) scale(1.22,1)">200</text>
<line x1="502.4" y1="194.31" x2="505.8" y2="194.31" stroke="#555" stroke-width="0.8" />
<text x="0" y="0" font-size="6.9" text-anchor="end" fill="#1a1a1a" transform="translate(498.4,196.81) scale(1.22,1)">300</text>
<line x1="505.8" y1="289.5" x2="599.7" y2="289.5" stroke="#555" stroke-width="0.8" />
<line x1="505.8" y1="289.5" x2="505.8" y2="292.7" stroke="#555" stroke-width="0.8" />
<text x="0" y="0" font-size="6.9" text-anchor="middle" fill="#1a1a1a" transform="translate(505.8,302.1) scale(1.22,1)">40</text>
<line x1="537.1" y1="289.5" x2="537.1" y2="292.7" stroke="#555" stroke-width="0.8" />
<text x="0" y="0" font-size="6.9" text-anchor="middle" fill="#1a1a1a" transform="translate(537.1,302.1) scale(1.22,1)">50</text>
<line x1="568.4" y1="289.5" x2="568.4" y2="292.7" stroke="#555" stroke-width="0.8" />
<text x="0" y="0" font-size="6.9" text-anchor="middle" fill="#1a1a1a" transform="translate(568.4,302.1) scale(1.22,1)">60</text>
<line x1="599.7" y1="289.5" x2="599.7" y2="292.7" stroke="#555" stroke-width="0.8" />
<text x="0" y="0" font-size="6.9" text-anchor="middle" fill="#1a1a1a" transform="translate(599.7,302.1) scale(1.22,1)">70</text>
<text x="552.4" y="316.2" font-size="8.6" text-anchor="middle" fill="#1a1a1a" font-weight="normal" >Day</text>
<text x="0" y="0" font-size="9.1" text-anchor="middle" fill="#1a1a1a" transform="translate(478,241.6) rotate(-90)">UI/mouse</text>
<polyline points="506,289.5 507.76,285.15 509.13,284.52 510.86,280.21 512.26,280.04 513.91,276.83 515.39,276.07 516.83,273.09 518.52,272.64 520.34,270.04 521.65,269.38 523.04,266.76 524.78,266.03 526.05,265.53 527.91,265.18 529.31,262.43 531.04,261.8 532.94,258.29 534.17,257.49 536.1,254.08 537.3,253.32 538.89,250.44 540.43,249.89 541.7,246.73 543.56,246.19 545.41,244.41 546.69,243.96 548.53,242.98 549.82,242.69 551.31,240.88 552.95,240.35 554.05,235.98 556.08,236.11 557.58,231.45 559.21,231.13 561.01,227.91 562.34,227.71 563.71,224.73 565.47,223.9 567.12,221.94 568.6,221.2 570.54,219.02 571.73,219.03 573.67,216.17 574.86,215.99 576.12,213.25 577.99,212.72 578.28,212.12 578.6,212" fill="none" stroke="#be2222" stroke-width="1.05" stroke-linejoin="round" />
<polyline points="578.6,212.1 579.72,209.11 581.73,210.18 582.93,207.33 584.86,208.12 585.92,204.72 587.99,206.02 589.56,203.73 591.12,204.55 592.08,202.21 594.25,202.72 595.5,199.84 597.38,200.41 598.06,198.93 599.6,199.04" fill="none" stroke="#f05a5a" stroke-width="1.0" stroke-linejoin="round" />
<text x="622.1" y="179" font-size="12.4" text-anchor="start" fill="#000" font-weight="bold" stroke="#000" stroke-width="0.55">j</text>
<text x="650.2" y="179.3" font-size="9.0" text-anchor="start" fill="#1a1a1a" font-weight="normal" letter-spacing="0.45" >UI slope</text>
<rect x="657.5" y="219.69" width="7.3" height="69.01" fill="#925f1f" stroke="#3a3a3a" stroke-width="0.6"/>
<rect x="670.3" y="251.51" width="7.5" height="37.19" fill="#f2b87f" stroke="#3a3a3a" stroke-width="0.6"/>
<line x1="659" y1="218.69" x2="664" y2="218.69" stroke="#333" stroke-width="0.8" />
<line x1="671.5" y1="250.51" x2="676.5" y2="250.51" stroke="#333" stroke-width="0.8" />
<line x1="652.3" y1="194.9" x2="652.3" y2="288.7" stroke="#555" stroke-width="0.8" />
<line x1="648.9" y1="288.7" x2="652.3" y2="288.7" stroke="#555" stroke-width="0.8" />
<text x="0" y="0" font-size="6.9" text-anchor="end" fill="#1a1a1a" transform="translate(645.8,291.2) scale(1.22,1)">0</text>
<line x1="648.9" y1="275.3" x2="652.3" y2="275.3" stroke="#555" stroke-width="0.8" />
<text x="0" y="0" font-size="6.9" text-anchor="end" fill="#1a1a1a" transform="translate(645.8,277.8) scale(1.22,1)">2</text>
<line x1="648.9" y1="261.9" x2="652.3" y2="261.9" stroke="#555" stroke-width="0.8" />
<text x="0" y="0" font-size="6.9" text-anchor="end" fill="#1a1a1a" transform="translate(645.8,264.4) scale(1.22,1)">4</text>
<line x1="648.9" y1="248.5" x2="652.3" y2="248.5" stroke="#555" stroke-width="0.8" />
<text x="0" y="0" font-size="6.9" text-anchor="end" fill="#1a1a1a" transform="translate(645.8,251) scale(1.22,1)">6</text>
<line x1="648.9" y1="235.1" x2="652.3" y2="235.1" stroke="#555" stroke-width="0.8" />
<text x="0" y="0" font-size="6.9" text-anchor="end" fill="#1a1a1a" transform="translate(645.8,237.6) scale(1.22,1)">8</text>
<line x1="648.9" y1="221.7" x2="652.3" y2="221.7" stroke="#555" stroke-width="0.8" />
<text x="0" y="0" font-size="6.9" text-anchor="end" fill="#1a1a1a" transform="translate(645.8,224.2) scale(1.22,1)">10</text>
<line x1="648.9" y1="208.3" x2="652.3" y2="208.3" stroke="#555" stroke-width="0.8" />
<text x="0" y="0" font-size="6.9" text-anchor="end" fill="#1a1a1a" transform="translate(645.8,210.8) scale(1.22,1)">12</text>
<line x1="648.9" y1="194.9" x2="652.3" y2="194.9" stroke="#555" stroke-width="0.8" />
<text x="0" y="0" font-size="6.9" text-anchor="end" fill="#1a1a1a" transform="translate(645.8,197.4) scale(1.22,1)">14</text>
<line x1="652.3" y1="288.7" x2="684" y2="288.7" stroke="#555" stroke-width="0.8" />
<line x1="661.3" y1="288.7" x2="661.3" y2="291.9" stroke="#555" stroke-width="0.8" />
<line x1="674" y1="288.7" x2="674" y2="291.9" stroke="#555" stroke-width="0.8" />
<path d="M668.1,243.4 L668.1,241.65 M668.1,243.4 L669.76,242.86 M668.1,243.4 L669.13,244.82 M668.1,243.4 L667.07,244.82 M668.1,243.4 L666.44,242.86 " stroke="#1a1a1a" stroke-width="1.0" stroke-linecap="round" fill="none"/>
<path d="M672.5,243.4 L672.5,241.65 M672.5,243.4 L674.16,242.86 M672.5,243.4 L673.53,244.82 M672.5,243.4 L671.47,244.82 M672.5,243.4 L670.84,242.86 " stroke="#1a1a1a" stroke-width="1.0" stroke-linecap="round" fill="none"/>
<path d="M676.9,243.4 L676.9,241.65 M676.9,243.4 L678.56,242.86 M676.9,243.4 L677.93,244.82 M676.9,243.4 L675.87,244.82 M676.9,243.4 L675.24,242.86 " stroke="#1a1a1a" stroke-width="1.0" stroke-linecap="round" fill="none"/>
<path d="M681.3,243.4 L681.3,241.65 M681.3,243.4 L682.96,242.86 M681.3,243.4 L682.33,244.82 M681.3,243.4 L680.27,244.82 M681.3,243.4 L679.64,242.86 " stroke="#1a1a1a" stroke-width="1.0" stroke-linecap="round" fill="none"/>
<text x="0" y="0" font-size="9.1" text-anchor="middle" fill="#1a1a1a" transform="translate(629.6,240.8) rotate(-90)">&#916;UI/mouse/day</text>
<text x="0" y="0" font-size="8.7" text-anchor="end" fill="#1a1a1a" transform="translate(662.6,301.3) rotate(-45)">Pre-day 63</text>
<text x="0" y="0" font-size="8.7" text-anchor="end" fill="#1a1a1a" transform="translate(676.4,300.3) rotate(-45)">Post-day 63</text>
<text x="64.2" y="179.4" font-size="9.0" text-anchor="start" fill="#1a1a1a" font-weight="normal" letter-spacing="0.45" >Pre-/post-day 59</text>
<rect x="100" y="194.3" width="64.9" height="94.8" fill="#dedede" />
<line x1="33.2" y1="257.5" x2="164.52" y2="257.5" stroke="#4a4a4a" stroke-width="0.95" stroke-dasharray="3,2"/>
<line x1="40.6" y1="193.7" x2="40.6" y2="202.8" stroke="#f41010" stroke-width="1.5" />
<path d="M38.1,201.9 L43.1,201.9 L40.6,207.2 Z" fill="#f41010"/>
<line x1="97.4" y1="193.7" x2="97.4" y2="202.8" stroke="#f41010" stroke-width="1.5" />
<path d="M94.9,201.9 L99.9,201.9 L97.4,207.2 Z" fill="#f41010"/>
<line x1="36.6" y1="194.3" x2="36.6" y2="289.1" stroke="#555" stroke-width="0.8" />
<line x1="33.2" y1="194.3" x2="36.6" y2="194.3" stroke="#555" stroke-width="0.8" />
<text x="0" y="0" font-size="6.9" text-anchor="end" fill="#1a1a1a" transform="translate(29.9,196.8) scale(1.22,1)">2</text>
<line x1="33.2" y1="225.9" x2="36.6" y2="225.9" stroke="#555" stroke-width="0.8" />
<text x="0" y="0" font-size="6.9" text-anchor="end" fill="#1a1a1a" transform="translate(29.9,228.4) scale(1.22,1)">1</text>
<line x1="33.2" y1="257.5" x2="36.6" y2="257.5" stroke="#555" stroke-width="0.8" />
<text x="0" y="0" font-size="6.9" text-anchor="end" fill="#1a1a1a" transform="translate(29.9,260) scale(1.22,1)">0</text>
<line x1="33.2" y1="289.1" x2="36.6" y2="289.1" stroke="#555" stroke-width="0.8" />
<text x="0" y="0" font-size="6.9" text-anchor="end" fill="#1a1a1a" transform="translate(29.9,291.6) scale(1.22,1)">&#8722;1</text>
<line x1="36.6" y1="289.1" x2="164.52" y2="289.1" stroke="#555" stroke-width="0.8" />
<line x1="36.6" y1="289.1" x2="36.6" y2="292.3" stroke="#555" stroke-width="0.8" />
<text x="0" y="0" font-size="6.9" text-anchor="middle" fill="#1a1a1a" transform="translate(36.6,301.7) scale(1.22,1)">0</text>
<line x1="52.59" y1="289.1" x2="52.59" y2="292.3" stroke="#555" stroke-width="0.8" />
<text x="0" y="0" font-size="6.9" text-anchor="middle" fill="#1a1a1a" transform="translate(52.59,301.7) scale(1.22,1)">3</text>
<line x1="68.58" y1="289.1" x2="68.58" y2="292.3" stroke="#555" stroke-width="0.8" />
<text x="0" y="0" font-size="6.9" text-anchor="middle" fill="#1a1a1a" transform="translate(68.58,301.7) scale(1.22,1)">6</text>
<line x1="84.57" y1="289.1" x2="84.57" y2="292.3" stroke="#555" stroke-width="0.8" />
<text x="0" y="0" font-size="6.9" text-anchor="middle" fill="#1a1a1a" transform="translate(84.57,301.7) scale(1.22,1)">9</text>
<line x1="100.56" y1="289.1" x2="100.56" y2="292.3" stroke="#555" stroke-width="0.8" />
<text x="0" y="0" font-size="6.9" text-anchor="middle" fill="#1a1a1a" transform="translate(100.56,301.7) scale(1.22,1)">12</text>
<line x1="116.55" y1="289.1" x2="116.55" y2="292.3" stroke="#555" stroke-width="0.8" />
<text x="0" y="0" font-size="6.9" text-anchor="middle" fill="#1a1a1a" transform="translate(116.55,301.7) scale(1.22,1)">15</text>
<line x1="132.54" y1="289.1" x2="132.54" y2="292.3" stroke="#555" stroke-width="0.8" />
<text x="0" y="0" font-size="6.9" text-anchor="middle" fill="#1a1a1a" transform="translate(132.54,301.7) scale(1.22,1)">18</text>
<line x1="148.53" y1="289.1" x2="148.53" y2="292.3" stroke="#555" stroke-width="0.8" />
<text x="0" y="0" font-size="6.9" text-anchor="middle" fill="#1a1a1a" transform="translate(148.53,301.7) scale(1.22,1)">21</text>
<line x1="164.52" y1="289.1" x2="164.52" y2="292.3" stroke="#555" stroke-width="0.8" />
<text x="0" y="0" font-size="6.9" text-anchor="middle" fill="#1a1a1a" transform="translate(164.52,301.7) scale(1.22,1)">24</text>
<text x="100.3" y="314.4" font-size="8.6" text-anchor="middle" fill="#1a1a1a" font-weight="normal" >ZT (h)</text>
<text x="0" y="0" font-size="9.1" text-anchor="middle" fill="#1a1a1a" transform="translate(14.8,242) rotate(-90)">&#916;UI/mouse/h</text>
<line x1="39.27" y1="261.7" x2="39.27" y2="265.7" stroke="#555" stroke-width="0.8" />
<line x1="37.66" y1="261.7" x2="40.87" y2="261.7" stroke="#555" stroke-width="0.8" />
<line x1="37.66" y1="265.7" x2="40.87" y2="265.7" stroke="#555" stroke-width="0.8" />
<line x1="44.59" y1="256.4" x2="44.59" y2="258.4" stroke="#555" stroke-width="0.8" />
<line x1="42.99" y1="256.4" x2="46.2" y2="256.4" stroke="#555" stroke-width="0.8" />
<line x1="42.99" y1="258.4" x2="46.2" y2="258.4" stroke="#555" stroke-width="0.8" />
<line x1="49.92" y1="257.8" x2="49.92" y2="259.8" stroke="#555" stroke-width="0.8" />
<line x1="48.32" y1="257.8" x2="51.52" y2="257.8" stroke="#555" stroke-width="0.8" />
<line x1="48.32" y1="259.8" x2="51.52" y2="259.8" stroke="#555" stroke-width="0.8" />
<line x1="55.26" y1="260" x2="55.26" y2="262" stroke="#555" stroke-width="0.8" />
<line x1="53.66" y1="260" x2="56.86" y2="260" stroke="#555" stroke-width="0.8" />
<line x1="53.66" y1="262" x2="56.86" y2="262" stroke="#555" stroke-width="0.8" />
<line x1="60.59" y1="260" x2="60.59" y2="262" stroke="#555" stroke-width="0.8" />
<line x1="58.98" y1="260" x2="62.19" y2="260" stroke="#555" stroke-width="0.8" />
<line x1="58.98" y1="262" x2="62.19" y2="262" stroke="#555" stroke-width="0.8" />
<line x1="65.92" y1="259.6" x2="65.92" y2="261.6" stroke="#555" stroke-width="0.8" />
<line x1="64.32" y1="259.6" x2="67.52" y2="259.6" stroke="#555" stroke-width="0.8" />
<line x1="64.32" y1="261.6" x2="67.52" y2="261.6" stroke="#555" stroke-width="0.8" />
<line x1="71.25" y1="257.4" x2="71.25" y2="259.4" stroke="#555" stroke-width="0.8" />
<line x1="69.65" y1="257.4" x2="72.84" y2="257.4" stroke="#555" stroke-width="0.8" />
<line x1="69.65" y1="259.4" x2="72.84" y2="259.4" stroke="#555" stroke-width="0.8" />
<line x1="76.58" y1="258" x2="76.58" y2="260" stroke="#555" stroke-width="0.8" />
<line x1="74.98" y1="258" x2="78.17" y2="258" stroke="#555" stroke-width="0.8" />
<line x1="74.98" y1="260" x2="78.17" y2="260" stroke="#555" stroke-width="0.8" />
<line x1="81.91" y1="259" x2="81.91" y2="261" stroke="#555" stroke-width="0.8" />
<line x1="80.31" y1="259" x2="83.5" y2="259" stroke="#555" stroke-width="0.8" />
<line x1="80.31" y1="261" x2="83.5" y2="261" stroke="#555" stroke-width="0.8" />
<line x1="87.23" y1="258.5" x2="87.23" y2="260.5" stroke="#555" stroke-width="0.8" />
<line x1="85.64" y1="258.5" x2="88.83" y2="258.5" stroke="#555" stroke-width="0.8" />
<line x1="85.64" y1="260.5" x2="88.83" y2="260.5" stroke="#555" stroke-width="0.8" />
<line x1="92.56" y1="258.5" x2="92.56" y2="260.5" stroke="#555" stroke-width="0.8" />
<line x1="90.97" y1="258.5" x2="94.16" y2="258.5" stroke="#555" stroke-width="0.8" />
<line x1="90.97" y1="260.5" x2="94.16" y2="260.5" stroke="#555" stroke-width="0.8" />
<line x1="97.9" y1="257.5" x2="97.9" y2="261.5" stroke="#555" stroke-width="0.8" />
<line x1="96.3" y1="257.5" x2="99.5" y2="257.5" stroke="#555" stroke-width="0.8" />
<line x1="96.3" y1="261.5" x2="99.5" y2="261.5" stroke="#555" stroke-width="0.8" />
<line x1="103.22" y1="248.8" x2="103.22" y2="250.8" stroke="#555" stroke-width="0.8" />
<line x1="101.62" y1="248.8" x2="104.82" y2="248.8" stroke="#555" stroke-width="0.8" />
<line x1="101.62" y1="250.8" x2="104.82" y2="250.8" stroke="#555" stroke-width="0.8" />
<line x1="108.56" y1="249.4" x2="108.56" y2="251.4" stroke="#555" stroke-width="0.8" />
<line x1="106.96" y1="249.4" x2="110.16" y2="249.4" stroke="#555" stroke-width="0.8" />
<line x1="106.96" y1="251.4" x2="110.16" y2="251.4" stroke="#555" stroke-width="0.8" />
<line x1="113.88" y1="251.9" x2="113.88" y2="253.9" stroke="#555" stroke-width="0.8" />
<line x1="112.28" y1="251.9" x2="115.48" y2="251.9" stroke="#555" stroke-width="0.8" />
<line x1="112.28" y1="253.9" x2="115.48" y2="253.9" stroke="#555" stroke-width="0.8" />
<line x1="119.22" y1="253" x2="119.22" y2="255" stroke="#555" stroke-width="0.8" />
<line x1="117.62" y1="253" x2="120.81" y2="253" stroke="#555" stroke-width="0.8" />
<line x1="117.62" y1="255" x2="120.81" y2="255" stroke="#555" stroke-width="0.8" />
<line x1="124.55" y1="251.5" x2="124.55" y2="253.5" stroke="#555" stroke-width="0.8" />
<line x1="122.95" y1="251.5" x2="126.15" y2="251.5" stroke="#555" stroke-width="0.8" />
<line x1="122.95" y1="253.5" x2="126.15" y2="253.5" stroke="#555" stroke-width="0.8" />
<line x1="129.88" y1="250.3" x2="129.88" y2="252.3" stroke="#555" stroke-width="0.8" />
<line x1="128.28" y1="250.3" x2="131.47" y2="250.3" stroke="#555" stroke-width="0.8" />
<line x1="128.28" y1="252.3" x2="131.47" y2="252.3" stroke="#555" stroke-width="0.8" />
<line x1="135.21" y1="248.3" x2="135.21" y2="250.3" stroke="#555" stroke-width="0.8" />
<line x1="133.61" y1="248.3" x2="136.81" y2="248.3" stroke="#555" stroke-width="0.8" />
<line x1="133.61" y1="250.3" x2="136.81" y2="250.3" stroke="#555" stroke-width="0.8" />
<line x1="140.53" y1="251.5" x2="140.53" y2="253.5" stroke="#555" stroke-width="0.8" />
<line x1="138.94" y1="251.5" x2="142.13" y2="251.5" stroke="#555" stroke-width="0.8" />
<line x1="138.94" y1="253.5" x2="142.13" y2="253.5" stroke="#555" stroke-width="0.8" />
<line x1="145.87" y1="256.2" x2="145.87" y2="258.2" stroke="#555" stroke-width="0.8" />
<line x1="144.27" y1="256.2" x2="147.47" y2="256.2" stroke="#555" stroke-width="0.8" />
<line x1="144.27" y1="258.2" x2="147.47" y2="258.2" stroke="#555" stroke-width="0.8" />
<line x1="151.19" y1="259.4" x2="151.19" y2="261.4" stroke="#555" stroke-width="0.8" />
<line x1="149.59" y1="259.4" x2="152.79" y2="259.4" stroke="#555" stroke-width="0.8" />
<line x1="149.59" y1="261.4" x2="152.79" y2="261.4" stroke="#555" stroke-width="0.8" />
<line x1="156.53" y1="260.1" x2="156.53" y2="262.1" stroke="#555" stroke-width="0.8" />
<line x1="154.93" y1="260.1" x2="158.12" y2="260.1" stroke="#555" stroke-width="0.8" />
<line x1="154.93" y1="262.1" x2="158.12" y2="262.1" stroke="#555" stroke-width="0.8" />
<line x1="161.85" y1="257.3" x2="161.85" y2="259.3" stroke="#555" stroke-width="0.8" />
<line x1="160.25" y1="257.3" x2="163.45" y2="257.3" stroke="#555" stroke-width="0.8" />
<line x1="160.25" y1="259.3" x2="163.45" y2="259.3" stroke="#555" stroke-width="0.8" />
<polyline points="39.27,263.7 44.59,257.4 49.92,258.8 55.26,261 60.59,261 65.92,260.6 71.25,258.4 76.58,259 81.91,260 87.23,259.5 92.56,259.5 97.9,259.5 103.22,249.8 108.56,250.4 113.88,252.9 119.22,254 124.55,252.5 129.88,251.3 135.21,249.3 140.53,252.5 145.87,257.2 151.19,260.4 156.53,261.1 161.85,258.3" fill="none" stroke="#1e1e1e" stroke-width="1.25" stroke-linejoin="round" />
<line x1="39.27" y1="246.8" x2="39.27" y2="252.8" stroke="#a0c8f2" stroke-width="0.8" />
<line x1="37.66" y1="246.8" x2="40.87" y2="246.8" stroke="#a0c8f2" stroke-width="0.8" />
<line x1="37.66" y1="252.8" x2="40.87" y2="252.8" stroke="#a0c8f2" stroke-width="0.8" />
<line x1="44.59" y1="248.6" x2="44.59" y2="256.6" stroke="#a0c8f2" stroke-width="0.8" />
<line x1="42.99" y1="248.6" x2="46.2" y2="248.6" stroke="#a0c8f2" stroke-width="0.8" />
<line x1="42.99" y1="256.6" x2="46.2" y2="256.6" stroke="#a0c8f2" stroke-width="0.8" />
<line x1="49.92" y1="252.4" x2="49.92" y2="258.4" stroke="#a0c8f2" stroke-width="0.8" />
<line x1="48.32" y1="252.4" x2="51.52" y2="252.4" stroke="#a0c8f2" stroke-width="0.8" />
<line x1="48.32" y1="258.4" x2="51.52" y2="258.4" stroke="#a0c8f2" stroke-width="0.8" />
<line x1="55.26" y1="257.5" x2="55.26" y2="261.5" stroke="#a0c8f2" stroke-width="0.8" />
<line x1="53.66" y1="257.5" x2="56.86" y2="257.5" stroke="#a0c8f2" stroke-width="0.8" />
<line x1="53.66" y1="261.5" x2="56.86" y2="261.5" stroke="#a0c8f2" stroke-width="0.8" />
<line x1="60.59" y1="252.4" x2="60.59" y2="258.4" stroke="#a0c8f2" stroke-width="0.8" />
<line x1="58.98" y1="252.4" x2="62.19" y2="252.4" stroke="#a0c8f2" stroke-width="0.8" />
<line x1="58.98" y1="258.4" x2="62.19" y2="258.4" stroke="#a0c8f2" stroke-width="0.8" />
<line x1="65.92" y1="254.7" x2="65.92" y2="258.7" stroke="#a0c8f2" stroke-width="0.8" />
<line x1="64.32" y1="254.7" x2="67.52" y2="254.7" stroke="#a0c8f2" stroke-width="0.8" />
<line x1="64.32" y1="258.7" x2="67.52" y2="258.7" stroke="#a0c8f2" stroke-width="0.8" />
<line x1="71.25" y1="256" x2="71.25" y2="260" stroke="#a0c8f2" stroke-width="0.8" />
<line x1="69.65" y1="256" x2="72.84" y2="256" stroke="#a0c8f2" stroke-width="0.8" />
<line x1="69.65" y1="260" x2="72.84" y2="260" stroke="#a0c8f2" stroke-width="0.8" />
<line x1="76.58" y1="260" x2="76.58" y2="264" stroke="#a0c8f2" stroke-width="0.8" />
<line x1="74.98" y1="260" x2="78.17" y2="260" stroke="#a0c8f2" stroke-width="0.8" />
<line x1="74.98" y1="264" x2="78.17" y2="264" stroke="#a0c8f2" stroke-width="0.8" />
<line x1="81.91" y1="260" x2="81.91" y2="264" stroke="#a0c8f2" stroke-width="0.8" />
<line x1="80.31" y1="260" x2="83.5" y2="260" stroke="#a0c8f2" stroke-width="0.8" />
<line x1="80.31" y1="264" x2="83.5" y2="264" stroke="#a0c8f2" stroke-width="0.8" />
<line x1="87.23" y1="260" x2="87.23" y2="264" stroke="#a0c8f2" stroke-width="0.8" />
<line x1="85.64" y1="260" x2="88.83" y2="260" stroke="#a0c8f2" stroke-width="0.8" />
<line x1="85.64" y1="264" x2="88.83" y2="264" stroke="#a0c8f2" stroke-width="0.8" />
<line x1="92.56" y1="261" x2="92.56" y2="265" stroke="#a0c8f2" stroke-width="0.8" />
<line x1="90.97" y1="261" x2="94.16" y2="261" stroke="#a0c8f2" stroke-width="0.8" />
<line x1="90.97" y1="265" x2="94.16" y2="265" stroke="#a0c8f2" stroke-width="0.8" />
<line x1="97.9" y1="257.5" x2="97.9" y2="261.5" stroke="#a0c8f2" stroke-width="0.8" />
<line x1="96.3" y1="257.5" x2="99.5" y2="257.5" stroke="#a0c8f2" stroke-width="0.8" />
<line x1="96.3" y1="261.5" x2="99.5" y2="261.5" stroke="#a0c8f2" stroke-width="0.8" />
<line x1="103.22" y1="243" x2="103.22" y2="249" stroke="#a0c8f2" stroke-width="0.8" />
<line x1="101.62" y1="243" x2="104.82" y2="243" stroke="#a0c8f2" stroke-width="0.8" />
<line x1="101.62" y1="249" x2="104.82" y2="249" stroke="#a0c8f2" stroke-width="0.8" />
<line x1="108.56" y1="242.3" x2="108.56" y2="248.3" stroke="#a0c8f2" stroke-width="0.8" />
<line x1="106.96" y1="242.3" x2="110.16" y2="242.3" stroke="#a0c8f2" stroke-width="0.8" />
<line x1="106.96" y1="248.3" x2="110.16" y2="248.3" stroke="#a0c8f2" stroke-width="0.8" />
<line x1="113.88" y1="233.1" x2="113.88" y2="241.1" stroke="#a0c8f2" stroke-width="0.8" />
<line x1="112.28" y1="233.1" x2="115.48" y2="233.1" stroke="#a0c8f2" stroke-width="0.8" />
<line x1="112.28" y1="241.1" x2="115.48" y2="241.1" stroke="#a0c8f2" stroke-width="0.8" />
<line x1="119.22" y1="240" x2="119.22" y2="246" stroke="#a0c8f2" stroke-width="0.8" />
<line x1="117.62" y1="240" x2="120.81" y2="240" stroke="#a0c8f2" stroke-width="0.8" />
<line x1="117.62" y1="246" x2="120.81" y2="246" stroke="#a0c8f2" stroke-width="0.8" />
<line x1="124.55" y1="240.8" x2="124.55" y2="246.8" stroke="#a0c8f2" stroke-width="0.8" />
<line x1="122.95" y1="240.8" x2="126.15" y2="240.8" stroke="#a0c8f2" stroke-width="0.8" />
<line x1="122.95" y1="246.8" x2="126.15" y2="246.8" stroke="#a0c8f2" stroke-width="0.8" />
<line x1="129.88" y1="231.8" x2="129.88" y2="239.8" stroke="#a0c8f2" stroke-width="0.8" />
<line x1="128.28" y1="231.8" x2="131.47" y2="231.8" stroke="#a0c8f2" stroke-width="0.8" />
<line x1="128.28" y1="239.8" x2="131.47" y2="239.8" stroke="#a0c8f2" stroke-width="0.8" />
<line x1="135.21" y1="238.2" x2="135.21" y2="246.2" stroke="#a0c8f2" stroke-width="0.8" />
<line x1="133.61" y1="238.2" x2="136.81" y2="238.2" stroke="#a0c8f2" stroke-width="0.8" />
<line x1="133.61" y1="246.2" x2="136.81" y2="246.2" stroke="#a0c8f2" stroke-width="0.8" />
<line x1="140.53" y1="245.8" x2="140.53" y2="253.8" stroke="#a0c8f2" stroke-width="0.8" />
<line x1="138.94" y1="245.8" x2="142.13" y2="245.8" stroke="#a0c8f2" stroke-width="0.8" />
<line x1="138.94" y1="253.8" x2="142.13" y2="253.8" stroke="#a0c8f2" stroke-width="0.8" />
<line x1="145.87" y1="250" x2="145.87" y2="258" stroke="#a0c8f2" stroke-width="0.8" />
<line x1="144.27" y1="250" x2="147.47" y2="250" stroke="#a0c8f2" stroke-width="0.8" />
<line x1="144.27" y1="258" x2="147.47" y2="258" stroke="#a0c8f2" stroke-width="0.8" />
<line x1="151.19" y1="250.5" x2="151.19" y2="258.5" stroke="#a0c8f2" stroke-width="0.8" />
<line x1="149.59" y1="250.5" x2="152.79" y2="250.5" stroke="#a0c8f2" stroke-width="0.8" />
<line x1="149.59" y1="258.5" x2="152.79" y2="258.5" stroke="#a0c8f2" stroke-width="0.8" />
<line x1="156.53" y1="259" x2="156.53" y2="265" stroke="#a0c8f2" stroke-width="0.8" />
<line x1="154.93" y1="259" x2="158.12" y2="259" stroke="#a0c8f2" stroke-width="0.8" />
<line x1="154.93" y1="265" x2="158.12" y2="265" stroke="#a0c8f2" stroke-width="0.8" />
<line x1="161.85" y1="243" x2="161.85" y2="251" stroke="#a0c8f2" stroke-width="0.8" />
<line x1="160.25" y1="243" x2="163.45" y2="243" stroke="#a0c8f2" stroke-width="0.8" />
<line x1="160.25" y1="251" x2="163.45" y2="251" stroke="#a0c8f2" stroke-width="0.8" />
<polyline points="39.27,249.8 44.59,252.6 49.92,255.4 55.26,259.5 60.59,255.4 65.92,256.7 71.25,258 76.58,262 81.91,262 87.23,262 92.56,263 97.9,259.5 103.22,246 108.56,245.3 113.88,237.1 119.22,243 124.55,243.8 129.88,235.8 135.21,242.2 140.53,249.8 145.87,254 151.19,254.5 156.53,262 161.85,247" fill="none" stroke="#6aaaf0" stroke-width="1.25" stroke-linejoin="round" />
<line x1="39.27" y1="243" x2="39.27" y2="251" stroke="#8080e0" stroke-width="0.8" />
<line x1="37.66" y1="243" x2="40.87" y2="243" stroke="#8080e0" stroke-width="0.8" />
<line x1="37.66" y1="251" x2="40.87" y2="251" stroke="#8080e0" stroke-width="0.8" />
<line x1="44.59" y1="219.9" x2="44.59" y2="231.9" stroke="#8080e0" stroke-width="0.8" />
<line x1="42.99" y1="219.9" x2="46.2" y2="219.9" stroke="#8080e0" stroke-width="0.8" />
<line x1="42.99" y1="231.9" x2="46.2" y2="231.9" stroke="#8080e0" stroke-width="0.8" />
<line x1="49.92" y1="224.3" x2="49.92" y2="236.3" stroke="#8080e0" stroke-width="0.8" />
<line x1="48.32" y1="224.3" x2="51.52" y2="224.3" stroke="#8080e0" stroke-width="0.8" />
<line x1="48.32" y1="236.3" x2="51.52" y2="236.3" stroke="#8080e0" stroke-width="0.8" />
<line x1="55.26" y1="220.2" x2="55.26" y2="236.2" stroke="#8080e0" stroke-width="0.8" />
<line x1="53.66" y1="220.2" x2="56.86" y2="220.2" stroke="#8080e0" stroke-width="0.8" />
<line x1="53.66" y1="236.2" x2="56.86" y2="236.2" stroke="#8080e0" stroke-width="0.8" />
<line x1="60.59" y1="248.9" x2="60.59" y2="254.9" stroke="#8080e0" stroke-width="0.8" />
<line x1="58.98" y1="248.9" x2="62.19" y2="248.9" stroke="#8080e0" stroke-width="0.8" />
<line x1="58.98" y1="254.9" x2="62.19" y2="254.9" stroke="#8080e0" stroke-width="0.8" />
<line x1="65.92" y1="254.7" x2="65.92" y2="258.7" stroke="#8080e0" stroke-width="0.8" />
<line x1="64.32" y1="254.7" x2="67.52" y2="254.7" stroke="#8080e0" stroke-width="0.8" />
<line x1="64.32" y1="258.7" x2="67.52" y2="258.7" stroke="#8080e0" stroke-width="0.8" />
<line x1="71.25" y1="257.5" x2="71.25" y2="261.5" stroke="#8080e0" stroke-width="0.8" />
<line x1="69.65" y1="257.5" x2="72.84" y2="257.5" stroke="#8080e0" stroke-width="0.8" />
<line x1="69.65" y1="261.5" x2="72.84" y2="261.5" stroke="#8080e0" stroke-width="0.8" />
<line x1="76.58" y1="258" x2="76.58" y2="264" stroke="#8080e0" stroke-width="0.8" />
<line x1="74.98" y1="258" x2="78.17" y2="258" stroke="#8080e0" stroke-width="0.8" />
<line x1="74.98" y1="264" x2="78.17" y2="264" stroke="#8080e0" stroke-width="0.8" />
<line x1="81.91" y1="257" x2="81.91" y2="263" stroke="#8080e0" stroke-width="0.8" />
<line x1="80.31" y1="257" x2="83.5" y2="257" stroke="#8080e0" stroke-width="0.8" />
<line x1="80.31" y1="263" x2="83.5" y2="263" stroke="#8080e0" stroke-width="0.8" />
<line x1="87.23" y1="254.8" x2="87.23" y2="262.8" stroke="#8080e0" stroke-width="0.8" />
<line x1="85.64" y1="254.8" x2="88.83" y2="254.8" stroke="#8080e0" stroke-width="0.8" />
<line x1="85.64" y1="262.8" x2="88.83" y2="262.8" stroke="#8080e0" stroke-width="0.8" />
<line x1="92.56" y1="260.3" x2="92.56" y2="264.3" stroke="#8080e0" stroke-width="0.8" />
<line x1="90.97" y1="260.3" x2="94.16" y2="260.3" stroke="#8080e0" stroke-width="0.8" />
<line x1="90.97" y1="264.3" x2="94.16" y2="264.3" stroke="#8080e0" stroke-width="0.8" />
<line x1="97.9" y1="261.4" x2="97.9" y2="267.4" stroke="#8080e0" stroke-width="0.8" />
<line x1="96.3" y1="261.4" x2="99.5" y2="261.4" stroke="#8080e0" stroke-width="0.8" />
<line x1="96.3" y1="267.4" x2="99.5" y2="267.4" stroke="#8080e0" stroke-width="0.8" />
<line x1="103.22" y1="221.7" x2="103.22" y2="231.7" stroke="#8080e0" stroke-width="0.8" />
<line x1="101.62" y1="221.7" x2="104.82" y2="221.7" stroke="#8080e0" stroke-width="0.8" />
<line x1="101.62" y1="231.7" x2="104.82" y2="231.7" stroke="#8080e0" stroke-width="0.8" />
<line x1="108.56" y1="223.7" x2="108.56" y2="233.7" stroke="#8080e0" stroke-width="0.8" />
<line x1="106.96" y1="223.7" x2="110.16" y2="223.7" stroke="#8080e0" stroke-width="0.8" />
<line x1="106.96" y1="233.7" x2="110.16" y2="233.7" stroke="#8080e0" stroke-width="0.8" />
<line x1="113.88" y1="220.8" x2="113.88" y2="232.8" stroke="#8080e0" stroke-width="0.8" />
<line x1="112.28" y1="220.8" x2="115.48" y2="220.8" stroke="#8080e0" stroke-width="0.8" />
<line x1="112.28" y1="232.8" x2="115.48" y2="232.8" stroke="#8080e0" stroke-width="0.8" />
<line x1="119.22" y1="236.4" x2="119.22" y2="246.4" stroke="#8080e0" stroke-width="0.8" />
<line x1="117.62" y1="236.4" x2="120.81" y2="236.4" stroke="#8080e0" stroke-width="0.8" />
<line x1="117.62" y1="246.4" x2="120.81" y2="246.4" stroke="#8080e0" stroke-width="0.8" />
<line x1="124.55" y1="227" x2="124.55" y2="239" stroke="#8080e0" stroke-width="0.8" />
<line x1="122.95" y1="227" x2="126.15" y2="227" stroke="#8080e0" stroke-width="0.8" />
<line x1="122.95" y1="239" x2="126.15" y2="239" stroke="#8080e0" stroke-width="0.8" />
<line x1="129.88" y1="222" x2="129.88" y2="234" stroke="#8080e0" stroke-width="0.8" />
<line x1="128.28" y1="222" x2="131.47" y2="222" stroke="#8080e0" stroke-width="0.8" />
<line x1="128.28" y1="234" x2="131.47" y2="234" stroke="#8080e0" stroke-width="0.8" />
<line x1="135.21" y1="227" x2="135.21" y2="235" stroke="#8080e0" stroke-width="0.8" />
<line x1="133.61" y1="227" x2="136.81" y2="227" stroke="#8080e0" stroke-width="0.8" />
<line x1="133.61" y1="235" x2="136.81" y2="235" stroke="#8080e0" stroke-width="0.8" />
<line x1="140.53" y1="211.2" x2="140.53" y2="224.2" stroke="#8080e0" stroke-width="0.8" />
<line x1="138.94" y1="211.2" x2="142.13" y2="211.2" stroke="#8080e0" stroke-width="0.8" />
<line x1="138.94" y1="224.2" x2="142.13" y2="224.2" stroke="#8080e0" stroke-width="0.8" />
<line x1="145.87" y1="229.8" x2="145.87" y2="241.8" stroke="#8080e0" stroke-width="0.8" />
<line x1="144.27" y1="229.8" x2="147.47" y2="229.8" stroke="#8080e0" stroke-width="0.8" />
<line x1="144.27" y1="241.8" x2="147.47" y2="241.8" stroke="#8080e0" stroke-width="0.8" />
<line x1="151.19" y1="243.3" x2="151.19" y2="255.3" stroke="#8080e0" stroke-width="0.8" />
<line x1="149.59" y1="243.3" x2="152.79" y2="243.3" stroke="#8080e0" stroke-width="0.8" />
<line x1="149.59" y1="255.3" x2="152.79" y2="255.3" stroke="#8080e0" stroke-width="0.8" />
<line x1="156.53" y1="259.5" x2="156.53" y2="264.5" stroke="#8080e0" stroke-width="0.8" />
<line x1="154.93" y1="259.5" x2="158.12" y2="259.5" stroke="#8080e0" stroke-width="0.8" />
<line x1="154.93" y1="264.5" x2="158.12" y2="264.5" stroke="#8080e0" stroke-width="0.8" />
<line x1="161.85" y1="235.5" x2="161.85" y2="248.5" stroke="#8080e0" stroke-width="0.8" />
<line x1="160.25" y1="235.5" x2="163.45" y2="235.5" stroke="#8080e0" stroke-width="0.8" />
<line x1="160.25" y1="248.5" x2="163.45" y2="248.5" stroke="#8080e0" stroke-width="0.8" />
<polyline points="39.27,247 44.59,225.9 49.92,230.3 55.26,228.2 60.59,251.9 65.92,256.7 71.25,259.5 76.58,261 81.91,260 87.23,258.8 92.56,262.3 97.9,264.4 103.22,226.7 108.56,228.7 113.88,226.8 119.22,241.4 124.55,233 129.88,228 135.21,231 140.53,217.7 145.87,235.8 151.19,249.3 156.53,262 161.85,242" fill="none" stroke="#2a2adc" stroke-width="1.25" stroke-linejoin="round" />
<path d="M38.6,268.2 V271.2 H58.8 V268.2" fill="none" stroke="#8c8ce6" stroke-width="0.9"/>
<path d="M96.6,268.2 V271.2 H153.5 V268.2" fill="none" stroke="#8c8ce6" stroke-width="0.9"/>
<path d="M160.1,268.2 V271.2 H163.8 V268.2" fill="none" stroke="#8c8ce6" stroke-width="0.9"/>
<path d="M38.6,275.2 V278.2 H42.5 V275.2" fill="none" stroke="#9cc6f2" stroke-width="0.9"/>
<path d="M111.3,275.2 V278.2 H131.8 V275.2" fill="none" stroke="#9cc6f2" stroke-width="0.9"/>
<path d="M160.1,275.2 V278.2 H163.8 V275.2" fill="none" stroke="#9cc6f2" stroke-width="0.9"/>
<path d="M43,282 V285 H59 V282" fill="none" stroke="#f08080" stroke-width="0.9"/>
<path d="M100.2,282 V285 H109.7 V282" fill="none" stroke="#f08080" stroke-width="0.9"/>
<path d="M122.2,282 V285 H125.4 V282" fill="none" stroke="#f08080" stroke-width="0.9"/>
<path d="M133,282 V285 H148.4 V282" fill="none" stroke="#f08080" stroke-width="0.9"/>
<line x1="111.9" y1="185.4" x2="119.8" y2="185.4" stroke="#3030e0" stroke-width="1.0" />
<text x="124.9" y="188.5" font-size="7.2" text-anchor="start" fill="#1a1a1a" font-weight="normal" letter-spacing="0.15" >Pre-day 59</text>
<line x1="111.9" y1="195.85" x2="119.8" y2="195.85" stroke="#a6cbf2" stroke-width="1.6" />
<text x="124.9" y="198.95" font-size="7.2" text-anchor="start" fill="#1a1a1a" font-weight="normal" letter-spacing="0.15" >Post-day 59</text>
<line x1="111.9" y1="206.3" x2="119.8" y2="206.3" stroke="#1e1e1e" stroke-width="1.0" />
<text x="124.9" y="209.4" font-size="7.2" text-anchor="start" fill="#1a1a1a" font-weight="normal" letter-spacing="0.15" >Ctrl</text>
<text x="0" y="179.1" font-size="12.4" text-anchor="start" fill="#000" font-weight="bold" stroke="#000" stroke-width="0.55">f</text>
<text x="63.3" y="338.7" font-size="9.0" text-anchor="start" fill="#1a1a1a" font-weight="normal" letter-spacing="0.45" >Pre-/post-day 63</text>
<rect x="100" y="353.8" width="64.9" height="94" fill="#dedede" />
<line x1="33.2" y1="410.2" x2="164.52" y2="410.2" stroke="#4a4a4a" stroke-width="0.95" stroke-dasharray="3,2"/>
<line x1="40.6" y1="353.2" x2="40.6" y2="362.3" stroke="#f41010" stroke-width="1.5" />
<path d="M38.1,361.4 L43.1,361.4 L40.6,366.7 Z" fill="#f41010"/>
<line x1="97.4" y1="353.2" x2="97.4" y2="362.3" stroke="#f41010" stroke-width="1.5" />
<path d="M94.9,361.4 L99.9,361.4 L97.4,366.7 Z" fill="#f41010"/>
<line x1="36.6" y1="353.8" x2="36.6" y2="447.8" stroke="#555" stroke-width="0.8" />
<line x1="33.2" y1="353.8" x2="36.6" y2="353.8" stroke="#555" stroke-width="0.8" />
<text x="0" y="0" font-size="6.9" text-anchor="end" fill="#1a1a1a" transform="translate(29.9,356.3) scale(1.22,1)">1.5</text>
<line x1="33.2" y1="372.6" x2="36.6" y2="372.6" stroke="#555" stroke-width="0.8" />
<text x="0" y="0" font-size="6.9" text-anchor="end" fill="#1a1a1a" transform="translate(29.9,375.1) scale(1.22,1)">1.0</text>
<line x1="33.2" y1="391.4" x2="36.6" y2="391.4" stroke="#555" stroke-width="0.8" />
<text x="0" y="0" font-size="6.9" text-anchor="end" fill="#1a1a1a" transform="translate(29.9,393.9) scale(1.22,1)">0.5</text>
<line x1="33.2" y1="410.2" x2="36.6" y2="410.2" stroke="#555" stroke-width="0.8" />
<text x="0" y="0" font-size="6.9" text-anchor="end" fill="#1a1a1a" transform="translate(29.9,412.7) scale(1.22,1)">0</text>
<line x1="33.2" y1="429" x2="36.6" y2="429" stroke="#555" stroke-width="0.8" />
<text x="0" y="0" font-size="6.9" text-anchor="end" fill="#1a1a1a" transform="translate(29.9,431.5) scale(1.22,1)">&#8722;0.5</text>
<line x1="33.2" y1="447.8" x2="36.6" y2="447.8" stroke="#555" stroke-width="0.8" />
<text x="0" y="0" font-size="6.9" text-anchor="end" fill="#1a1a1a" transform="translate(29.9,450.3) scale(1.22,1)">&#8722;1.0</text>
<line x1="36.6" y1="447.8" x2="164.52" y2="447.8" stroke="#555" stroke-width="0.8" />
<line x1="36.6" y1="447.8" x2="36.6" y2="451" stroke="#555" stroke-width="0.8" />
<text x="0" y="0" font-size="6.9" text-anchor="middle" fill="#1a1a1a" transform="translate(36.6,460.4) scale(1.22,1)">0</text>
<line x1="52.59" y1="447.8" x2="52.59" y2="451" stroke="#555" stroke-width="0.8" />
<text x="0" y="0" font-size="6.9" text-anchor="middle" fill="#1a1a1a" transform="translate(52.59,460.4) scale(1.22,1)">3</text>
<line x1="68.58" y1="447.8" x2="68.58" y2="451" stroke="#555" stroke-width="0.8" />
<text x="0" y="0" font-size="6.9" text-anchor="middle" fill="#1a1a1a" transform="translate(68.58,460.4) scale(1.22,1)">6</text>
<line x1="84.57" y1="447.8" x2="84.57" y2="451" stroke="#555" stroke-width="0.8" />
<text x="0" y="0" font-size="6.9" text-anchor="middle" fill="#1a1a1a" transform="translate(84.57,460.4) scale(1.22,1)">9</text>
<line x1="100.56" y1="447.8" x2="100.56" y2="451" stroke="#555" stroke-width="0.8" />
<text x="0" y="0" font-size="6.9" text-anchor="middle" fill="#1a1a1a" transform="translate(100.56,460.4) scale(1.22,1)">12</text>
<line x1="116.55" y1="447.8" x2="116.55" y2="451" stroke="#555" stroke-width="0.8" />
<text x="0" y="0" font-size="6.9" text-anchor="middle" fill="#1a1a1a" transform="translate(116.55,460.4) scale(1.22,1)">15</text>
<line x1="132.54" y1="447.8" x2="132.54" y2="451" stroke="#555" stroke-width="0.8" />
<text x="0" y="0" font-size="6.9" text-anchor="middle" fill="#1a1a1a" transform="translate(132.54,460.4) scale(1.22,1)">18</text>
<line x1="148.53" y1="447.8" x2="148.53" y2="451" stroke="#555" stroke-width="0.8" />
<text x="0" y="0" font-size="6.9" text-anchor="middle" fill="#1a1a1a" transform="translate(148.53,460.4) scale(1.22,1)">21</text>
<line x1="164.52" y1="447.8" x2="164.52" y2="451" stroke="#555" stroke-width="0.8" />
<text x="0" y="0" font-size="6.9" text-anchor="middle" fill="#1a1a1a" transform="translate(164.52,460.4) scale(1.22,1)">24</text>
<text x="100.3" y="472.1" font-size="8.6" text-anchor="middle" fill="#1a1a1a" font-weight="normal" >ZT (h)</text>
<text x="0" y="0" font-size="9.1" text-anchor="middle" fill="#1a1a1a" transform="translate(8.4,400.2) rotate(-90)">&#916;UI/mouse/h</text>
<line x1="39.27" y1="416" x2="39.27" y2="420" stroke="#555" stroke-width="0.8" />
<line x1="37.66" y1="416" x2="40.87" y2="416" stroke="#555" stroke-width="0.8" />
<line x1="37.66" y1="420" x2="40.87" y2="420" stroke="#555" stroke-width="0.8" />
<line x1="44.59" y1="409.4" x2="44.59" y2="411.4" stroke="#555" stroke-width="0.8" />
<line x1="42.99" y1="409.4" x2="46.2" y2="409.4" stroke="#555" stroke-width="0.8" />
<line x1="42.99" y1="411.4" x2="46.2" y2="411.4" stroke="#555" stroke-width="0.8" />
<line x1="49.92" y1="412.1" x2="49.92" y2="414.1" stroke="#555" stroke-width="0.8" />
<line x1="48.32" y1="412.1" x2="51.52" y2="412.1" stroke="#555" stroke-width="0.8" />
<line x1="48.32" y1="414.1" x2="51.52" y2="414.1" stroke="#555" stroke-width="0.8" />
<line x1="55.26" y1="414.2" x2="55.26" y2="416.2" stroke="#555" stroke-width="0.8" />
<line x1="53.66" y1="414.2" x2="56.86" y2="414.2" stroke="#555" stroke-width="0.8" />
<line x1="53.66" y1="416.2" x2="56.86" y2="416.2" stroke="#555" stroke-width="0.8" />
<line x1="60.59" y1="413.3" x2="60.59" y2="415.3" stroke="#555" stroke-width="0.8" />
<line x1="58.98" y1="413.3" x2="62.19" y2="413.3" stroke="#555" stroke-width="0.8" />
<line x1="58.98" y1="415.3" x2="62.19" y2="415.3" stroke="#555" stroke-width="0.8" />
<line x1="65.92" y1="412.8" x2="65.92" y2="414.8" stroke="#555" stroke-width="0.8" />
<line x1="64.32" y1="412.8" x2="67.52" y2="412.8" stroke="#555" stroke-width="0.8" />
<line x1="64.32" y1="414.8" x2="67.52" y2="414.8" stroke="#555" stroke-width="0.8" />
<line x1="71.25" y1="409.4" x2="71.25" y2="411.4" stroke="#555" stroke-width="0.8" />
<line x1="69.65" y1="409.4" x2="72.84" y2="409.4" stroke="#555" stroke-width="0.8" />
<line x1="69.65" y1="411.4" x2="72.84" y2="411.4" stroke="#555" stroke-width="0.8" />
<line x1="76.58" y1="411.4" x2="76.58" y2="413.4" stroke="#555" stroke-width="0.8" />
<line x1="74.98" y1="411.4" x2="78.17" y2="411.4" stroke="#555" stroke-width="0.8" />
<line x1="74.98" y1="413.4" x2="78.17" y2="413.4" stroke="#555" stroke-width="0.8" />
<line x1="81.91" y1="411" x2="81.91" y2="413" stroke="#555" stroke-width="0.8" />
<line x1="80.31" y1="411" x2="83.5" y2="411" stroke="#555" stroke-width="0.8" />
<line x1="80.31" y1="413" x2="83.5" y2="413" stroke="#555" stroke-width="0.8" />
<line x1="87.23" y1="410.7" x2="87.23" y2="412.7" stroke="#555" stroke-width="0.8" />
<line x1="85.64" y1="410.7" x2="88.83" y2="410.7" stroke="#555" stroke-width="0.8" />
<line x1="85.64" y1="412.7" x2="88.83" y2="412.7" stroke="#555" stroke-width="0.8" />
<line x1="92.56" y1="411.4" x2="92.56" y2="413.4" stroke="#555" stroke-width="0.8" />
<line x1="90.97" y1="411.4" x2="94.16" y2="411.4" stroke="#555" stroke-width="0.8" />
<line x1="90.97" y1="413.4" x2="94.16" y2="413.4" stroke="#555" stroke-width="0.8" />
<line x1="97.9" y1="412.5" x2="97.9" y2="416.5" stroke="#555" stroke-width="0.8" />
<line x1="96.3" y1="412.5" x2="99.5" y2="412.5" stroke="#555" stroke-width="0.8" />
<line x1="96.3" y1="416.5" x2="99.5" y2="416.5" stroke="#555" stroke-width="0.8" />
<line x1="103.22" y1="399.2" x2="103.22" y2="401.2" stroke="#555" stroke-width="0.8" />
<line x1="101.62" y1="399.2" x2="104.82" y2="399.2" stroke="#555" stroke-width="0.8" />
<line x1="101.62" y1="401.2" x2="104.82" y2="401.2" stroke="#555" stroke-width="0.8" />
<line x1="108.56" y1="400" x2="108.56" y2="402" stroke="#555" stroke-width="0.8" />
<line x1="106.96" y1="400" x2="110.16" y2="400" stroke="#555" stroke-width="0.8" />
<line x1="106.96" y1="402" x2="110.16" y2="402" stroke="#555" stroke-width="0.8" />
<line x1="113.88" y1="403.3" x2="113.88" y2="405.3" stroke="#555" stroke-width="0.8" />
<line x1="112.28" y1="403.3" x2="115.48" y2="403.3" stroke="#555" stroke-width="0.8" />
<line x1="112.28" y1="405.3" x2="115.48" y2="405.3" stroke="#555" stroke-width="0.8" />
<line x1="119.22" y1="405.4" x2="119.22" y2="407.4" stroke="#555" stroke-width="0.8" />
<line x1="117.62" y1="405.4" x2="120.81" y2="405.4" stroke="#555" stroke-width="0.8" />
<line x1="117.62" y1="407.4" x2="120.81" y2="407.4" stroke="#555" stroke-width="0.8" />
<line x1="124.55" y1="402.8" x2="124.55" y2="404.8" stroke="#555" stroke-width="0.8" />
<line x1="122.95" y1="402.8" x2="126.15" y2="402.8" stroke="#555" stroke-width="0.8" />
<line x1="122.95" y1="404.8" x2="126.15" y2="404.8" stroke="#555" stroke-width="0.8" />
<line x1="129.88" y1="401.4" x2="129.88" y2="403.4" stroke="#555" stroke-width="0.8" />
<line x1="128.28" y1="401.4" x2="131.47" y2="401.4" stroke="#555" stroke-width="0.8" />
<line x1="128.28" y1="403.4" x2="131.47" y2="403.4" stroke="#555" stroke-width="0.8" />
<line x1="135.21" y1="399.2" x2="135.21" y2="401.2" stroke="#555" stroke-width="0.8" />
<line x1="133.61" y1="399.2" x2="136.81" y2="399.2" stroke="#555" stroke-width="0.8" />
<line x1="133.61" y1="401.2" x2="136.81" y2="401.2" stroke="#555" stroke-width="0.8" />
<line x1="140.53" y1="404" x2="140.53" y2="406" stroke="#555" stroke-width="0.8" />
<line x1="138.94" y1="404" x2="142.13" y2="404" stroke="#555" stroke-width="0.8" />
<line x1="138.94" y1="406" x2="142.13" y2="406" stroke="#555" stroke-width="0.8" />
<line x1="145.87" y1="407.7" x2="145.87" y2="409.7" stroke="#555" stroke-width="0.8" />
<line x1="144.27" y1="407.7" x2="147.47" y2="407.7" stroke="#555" stroke-width="0.8" />
<line x1="144.27" y1="409.7" x2="147.47" y2="409.7" stroke="#555" stroke-width="0.8" />
<line x1="151.19" y1="412.5" x2="151.19" y2="414.5" stroke="#555" stroke-width="0.8" />
<line x1="149.59" y1="412.5" x2="152.79" y2="412.5" stroke="#555" stroke-width="0.8" />
<line x1="149.59" y1="414.5" x2="152.79" y2="414.5" stroke="#555" stroke-width="0.8" />
<line x1="156.53" y1="413" x2="156.53" y2="415" stroke="#555" stroke-width="0.8" />
<line x1="154.93" y1="413" x2="158.12" y2="413" stroke="#555" stroke-width="0.8" />
<line x1="154.93" y1="415" x2="158.12" y2="415" stroke="#555" stroke-width="0.8" />
<line x1="161.85" y1="408.5" x2="161.85" y2="410.5" stroke="#555" stroke-width="0.8" />
<line x1="160.25" y1="408.5" x2="163.45" y2="408.5" stroke="#555" stroke-width="0.8" />
<line x1="160.25" y1="410.5" x2="163.45" y2="410.5" stroke="#555" stroke-width="0.8" />
<polyline points="39.27,418 44.59,410.4 49.92,413.1 55.26,415.2 60.59,414.3 65.92,413.8 71.25,410.4 76.58,412.4 81.91,412 87.23,411.7 92.56,412.4 97.9,414.5 103.22,400.2 108.56,401 113.88,404.3 119.22,406.4 124.55,403.8 129.88,402.4 135.21,400.2 140.53,405 145.87,408.7 151.19,413.5 156.53,414 161.85,409.5" fill="none" stroke="#1e1e1e" stroke-width="1.25" stroke-linejoin="round" />
<line x1="39.27" y1="381" x2="39.27" y2="400" stroke="#f7cda0" stroke-width="0.8" />
<line x1="37.66" y1="381" x2="40.87" y2="381" stroke="#f7cda0" stroke-width="0.8" />
<line x1="37.66" y1="400" x2="40.87" y2="400" stroke="#f7cda0" stroke-width="0.8" />
<line x1="44.59" y1="397.4" x2="44.59" y2="409.4" stroke="#f7cda0" stroke-width="0.8" />
<line x1="42.99" y1="397.4" x2="46.2" y2="397.4" stroke="#f7cda0" stroke-width="0.8" />
<line x1="42.99" y1="409.4" x2="46.2" y2="409.4" stroke="#f7cda0" stroke-width="0.8" />
<line x1="49.92" y1="404.3" x2="49.92" y2="412.3" stroke="#f7cda0" stroke-width="0.8" />
<line x1="48.32" y1="404.3" x2="51.52" y2="404.3" stroke="#f7cda0" stroke-width="0.8" />
<line x1="48.32" y1="412.3" x2="51.52" y2="412.3" stroke="#f7cda0" stroke-width="0.8" />
<line x1="55.26" y1="397.2" x2="55.26" y2="431.2" stroke="#f7cda0" stroke-width="0.8" />
<line x1="53.66" y1="397.2" x2="56.86" y2="397.2" stroke="#f7cda0" stroke-width="0.8" />
<line x1="53.66" y1="431.2" x2="56.86" y2="431.2" stroke="#f7cda0" stroke-width="0.8" />
<line x1="60.59" y1="399.8" x2="60.59" y2="409.8" stroke="#f7cda0" stroke-width="0.8" />
<line x1="58.98" y1="399.8" x2="62.19" y2="399.8" stroke="#f7cda0" stroke-width="0.8" />
<line x1="58.98" y1="409.8" x2="62.19" y2="409.8" stroke="#f7cda0" stroke-width="0.8" />
<line x1="65.92" y1="406.4" x2="65.92" y2="414.4" stroke="#f7cda0" stroke-width="0.8" />
<line x1="64.32" y1="406.4" x2="67.52" y2="406.4" stroke="#f7cda0" stroke-width="0.8" />
<line x1="64.32" y1="414.4" x2="67.52" y2="414.4" stroke="#f7cda0" stroke-width="0.8" />
<line x1="71.25" y1="408" x2="71.25" y2="414" stroke="#f7cda0" stroke-width="0.8" />
<line x1="69.65" y1="408" x2="72.84" y2="408" stroke="#f7cda0" stroke-width="0.8" />
<line x1="69.65" y1="414" x2="72.84" y2="414" stroke="#f7cda0" stroke-width="0.8" />
<line x1="76.58" y1="408.7" x2="76.58" y2="414.7" stroke="#f7cda0" stroke-width="0.8" />
<line x1="74.98" y1="408.7" x2="78.17" y2="408.7" stroke="#f7cda0" stroke-width="0.8" />
<line x1="74.98" y1="414.7" x2="78.17" y2="414.7" stroke="#f7cda0" stroke-width="0.8" />
<line x1="81.91" y1="408.7" x2="81.91" y2="414.7" stroke="#f7cda0" stroke-width="0.8" />
<line x1="80.31" y1="408.7" x2="83.5" y2="408.7" stroke="#f7cda0" stroke-width="0.8" />
<line x1="80.31" y1="414.7" x2="83.5" y2="414.7" stroke="#f7cda0" stroke-width="0.8" />
<line x1="87.23" y1="403.2" x2="87.23" y2="409.2" stroke="#f7cda0" stroke-width="0.8" />
<line x1="85.64" y1="403.2" x2="88.83" y2="403.2" stroke="#f7cda0" stroke-width="0.8" />
<line x1="85.64" y1="409.2" x2="88.83" y2="409.2" stroke="#f7cda0" stroke-width="0.8" />
<line x1="92.56" y1="385" x2="92.56" y2="405" stroke="#f7cda0" stroke-width="0.8" />
<line x1="90.97" y1="385" x2="94.16" y2="385" stroke="#f7cda0" stroke-width="0.8" />
<line x1="90.97" y1="405" x2="94.16" y2="405" stroke="#f7cda0" stroke-width="0.8" />
<line x1="97.9" y1="397.7" x2="97.9" y2="407.7" stroke="#f7cda0" stroke-width="0.8" />
<line x1="96.3" y1="397.7" x2="99.5" y2="397.7" stroke="#f7cda0" stroke-width="0.8" />
<line x1="96.3" y1="407.7" x2="99.5" y2="407.7" stroke="#f7cda0" stroke-width="0.8" />
<line x1="103.22" y1="382" x2="103.22" y2="398" stroke="#f7cda0" stroke-width="0.8" />
<line x1="101.62" y1="382" x2="104.82" y2="382" stroke="#f7cda0" stroke-width="0.8" />
<line x1="101.62" y1="398" x2="104.82" y2="398" stroke="#f7cda0" stroke-width="0.8" />
<line x1="108.56" y1="367.6" x2="108.56" y2="386.6" stroke="#f7cda0" stroke-width="0.8" />
<line x1="106.96" y1="367.6" x2="110.16" y2="367.6" stroke="#f7cda0" stroke-width="0.8" />
<line x1="106.96" y1="386.6" x2="110.16" y2="386.6" stroke="#f7cda0" stroke-width="0.8" />
<line x1="113.88" y1="372.5" x2="113.88" y2="386.5" stroke="#f7cda0" stroke-width="0.8" />
<line x1="112.28" y1="372.5" x2="115.48" y2="372.5" stroke="#f7cda0" stroke-width="0.8" />
<line x1="112.28" y1="386.5" x2="115.48" y2="386.5" stroke="#f7cda0" stroke-width="0.8" />
<line x1="119.22" y1="372" x2="119.22" y2="394" stroke="#f7cda0" stroke-width="0.8" />
<line x1="117.62" y1="372" x2="120.81" y2="372" stroke="#f7cda0" stroke-width="0.8" />
<line x1="117.62" y1="394" x2="120.81" y2="394" stroke="#f7cda0" stroke-width="0.8" />
<line x1="124.55" y1="376.8" x2="124.55" y2="394.8" stroke="#f7cda0" stroke-width="0.8" />
<line x1="122.95" y1="376.8" x2="126.15" y2="376.8" stroke="#f7cda0" stroke-width="0.8" />
<line x1="122.95" y1="394.8" x2="126.15" y2="394.8" stroke="#f7cda0" stroke-width="0.8" />
<line x1="129.88" y1="371.2" x2="129.88" y2="401.2" stroke="#f7cda0" stroke-width="0.8" />
<line x1="128.28" y1="371.2" x2="131.47" y2="371.2" stroke="#f7cda0" stroke-width="0.8" />
<line x1="128.28" y1="401.2" x2="131.47" y2="401.2" stroke="#f7cda0" stroke-width="0.8" />
<line x1="135.21" y1="381.2" x2="135.21" y2="397.2" stroke="#f7cda0" stroke-width="0.8" />
<line x1="133.61" y1="381.2" x2="136.81" y2="381.2" stroke="#f7cda0" stroke-width="0.8" />
<line x1="133.61" y1="397.2" x2="136.81" y2="397.2" stroke="#f7cda0" stroke-width="0.8" />
<line x1="140.53" y1="397" x2="140.53" y2="419" stroke="#f7cda0" stroke-width="0.8" />
<line x1="138.94" y1="397" x2="142.13" y2="397" stroke="#f7cda0" stroke-width="0.8" />
<line x1="138.94" y1="419" x2="142.13" y2="419" stroke="#f7cda0" stroke-width="0.8" />
<line x1="145.87" y1="400.3" x2="145.87" y2="414.3" stroke="#f7cda0" stroke-width="0.8" />
<line x1="144.27" y1="400.3" x2="147.47" y2="400.3" stroke="#f7cda0" stroke-width="0.8" />
<line x1="144.27" y1="414.3" x2="147.47" y2="414.3" stroke="#f7cda0" stroke-width="0.8" />
<line x1="151.19" y1="403.8" x2="151.19" y2="417.8" stroke="#f7cda0" stroke-width="0.8" />
<line x1="149.59" y1="403.8" x2="152.79" y2="403.8" stroke="#f7cda0" stroke-width="0.8" />
<line x1="149.59" y1="417.8" x2="152.79" y2="417.8" stroke="#f7cda0" stroke-width="0.8" />
<line x1="156.53" y1="378.4" x2="156.53" y2="408.4" stroke="#f7cda0" stroke-width="0.8" />
<line x1="154.93" y1="378.4" x2="158.12" y2="378.4" stroke="#f7cda0" stroke-width="0.8" />
<line x1="154.93" y1="408.4" x2="158.12" y2="408.4" stroke="#f7cda0" stroke-width="0.8" />
<line x1="161.85" y1="376.4" x2="161.85" y2="392.4" stroke="#f7cda0" stroke-width="0.8" />
<line x1="160.25" y1="376.4" x2="163.45" y2="376.4" stroke="#f7cda0" stroke-width="0.8" />
<line x1="160.25" y1="392.4" x2="163.45" y2="392.4" stroke="#f7cda0" stroke-width="0.8" />
<polyline points="39.27,390 44.59,403.4 49.92,408.3 55.26,406.2 60.59,404.8 65.92,410.4 71.25,411 76.58,411.7 81.91,411.7 87.23,406.2 92.56,395 97.9,402.7 103.22,390 108.56,377.1 113.88,379.5 119.22,383 124.55,385.8 129.88,386.2 135.21,389.2 140.53,408 145.87,407.3 151.19,410.8 156.53,393.4 161.85,384.4" fill="none" stroke="#f5b97c" stroke-width="1.15" stroke-linejoin="round" />
<line x1="39.27" y1="395.2" x2="39.27" y2="403.2" stroke="#c9a577" stroke-width="0.8" />
<line x1="37.66" y1="395.2" x2="40.87" y2="395.2" stroke="#c9a577" stroke-width="0.8" />
<line x1="37.66" y1="403.2" x2="40.87" y2="403.2" stroke="#c9a577" stroke-width="0.8" />
<line x1="44.59" y1="396.3" x2="44.59" y2="404.3" stroke="#c9a577" stroke-width="0.8" />
<line x1="42.99" y1="396.3" x2="46.2" y2="396.3" stroke="#c9a577" stroke-width="0.8" />
<line x1="42.99" y1="404.3" x2="46.2" y2="404.3" stroke="#c9a577" stroke-width="0.8" />
<line x1="49.92" y1="395.2" x2="49.92" y2="403.2" stroke="#c9a577" stroke-width="0.8" />
<line x1="48.32" y1="395.2" x2="51.52" y2="395.2" stroke="#c9a577" stroke-width="0.8" />
<line x1="48.32" y1="403.2" x2="51.52" y2="403.2" stroke="#c9a577" stroke-width="0.8" />
<line x1="55.26" y1="397.3" x2="55.26" y2="405.3" stroke="#c9a577" stroke-width="0.8" />
<line x1="53.66" y1="397.3" x2="56.86" y2="397.3" stroke="#c9a577" stroke-width="0.8" />
<line x1="53.66" y1="405.3" x2="56.86" y2="405.3" stroke="#c9a577" stroke-width="0.8" />
<line x1="60.59" y1="401.1" x2="60.59" y2="407.1" stroke="#c9a577" stroke-width="0.8" />
<line x1="58.98" y1="401.1" x2="62.19" y2="401.1" stroke="#c9a577" stroke-width="0.8" />
<line x1="58.98" y1="407.1" x2="62.19" y2="407.1" stroke="#c9a577" stroke-width="0.8" />
<line x1="65.92" y1="405.3" x2="65.92" y2="411.3" stroke="#c9a577" stroke-width="0.8" />
<line x1="64.32" y1="405.3" x2="67.52" y2="405.3" stroke="#c9a577" stroke-width="0.8" />
<line x1="64.32" y1="411.3" x2="67.52" y2="411.3" stroke="#c9a577" stroke-width="0.8" />
<line x1="71.25" y1="401.1" x2="71.25" y2="407.1" stroke="#c9a577" stroke-width="0.8" />
<line x1="69.65" y1="401.1" x2="72.84" y2="401.1" stroke="#c9a577" stroke-width="0.8" />
<line x1="69.65" y1="407.1" x2="72.84" y2="407.1" stroke="#c9a577" stroke-width="0.8" />
<line x1="76.58" y1="406.7" x2="76.58" y2="412.7" stroke="#c9a577" stroke-width="0.8" />
<line x1="74.98" y1="406.7" x2="78.17" y2="406.7" stroke="#c9a577" stroke-width="0.8" />
<line x1="74.98" y1="412.7" x2="78.17" y2="412.7" stroke="#c9a577" stroke-width="0.8" />
<line x1="81.91" y1="409.7" x2="81.91" y2="413.7" stroke="#c9a577" stroke-width="0.8" />
<line x1="80.31" y1="409.7" x2="83.5" y2="409.7" stroke="#c9a577" stroke-width="0.8" />
<line x1="80.31" y1="413.7" x2="83.5" y2="413.7" stroke="#c9a577" stroke-width="0.8" />
<line x1="87.23" y1="407.7" x2="87.23" y2="411.7" stroke="#c9a577" stroke-width="0.8" />
<line x1="85.64" y1="407.7" x2="88.83" y2="407.7" stroke="#c9a577" stroke-width="0.8" />
<line x1="85.64" y1="411.7" x2="88.83" y2="411.7" stroke="#c9a577" stroke-width="0.8" />
<line x1="92.56" y1="404.9" x2="92.56" y2="408.9" stroke="#c9a577" stroke-width="0.8" />
<line x1="90.97" y1="404.9" x2="94.16" y2="404.9" stroke="#c9a577" stroke-width="0.8" />
<line x1="90.97" y1="408.9" x2="94.16" y2="408.9" stroke="#c9a577" stroke-width="0.8" />
<line x1="97.9" y1="396.6" x2="97.9" y2="404.6" stroke="#c9a577" stroke-width="0.8" />
<line x1="96.3" y1="396.6" x2="99.5" y2="396.6" stroke="#c9a577" stroke-width="0.8" />
<line x1="96.3" y1="404.6" x2="99.5" y2="404.6" stroke="#c9a577" stroke-width="0.8" />
<line x1="103.22" y1="372.8" x2="103.22" y2="381.8" stroke="#c9a577" stroke-width="0.8" />
<line x1="101.62" y1="372.8" x2="104.82" y2="372.8" stroke="#c9a577" stroke-width="0.8" />
<line x1="101.62" y1="381.8" x2="104.82" y2="381.8" stroke="#c9a577" stroke-width="0.8" />
<line x1="108.56" y1="372.8" x2="108.56" y2="381.8" stroke="#c9a577" stroke-width="0.8" />
<line x1="106.96" y1="372.8" x2="110.16" y2="372.8" stroke="#c9a577" stroke-width="0.8" />
<line x1="106.96" y1="381.8" x2="110.16" y2="381.8" stroke="#c9a577" stroke-width="0.8" />
<line x1="113.88" y1="372.8" x2="113.88" y2="381.8" stroke="#c9a577" stroke-width="0.8" />
<line x1="112.28" y1="372.8" x2="115.48" y2="372.8" stroke="#c9a577" stroke-width="0.8" />
<line x1="112.28" y1="381.8" x2="115.48" y2="381.8" stroke="#c9a577" stroke-width="0.8" />
<line x1="119.22" y1="379.4" x2="119.22" y2="389.4" stroke="#c9a577" stroke-width="0.8" />
<line x1="117.62" y1="379.4" x2="120.81" y2="379.4" stroke="#c9a577" stroke-width="0.8" />
<line x1="117.62" y1="389.4" x2="120.81" y2="389.4" stroke="#c9a577" stroke-width="0.8" />
<line x1="124.55" y1="374.4" x2="124.55" y2="384.4" stroke="#c9a577" stroke-width="0.8" />
<line x1="122.95" y1="374.4" x2="126.15" y2="374.4" stroke="#c9a577" stroke-width="0.8" />
<line x1="122.95" y1="384.4" x2="126.15" y2="384.4" stroke="#c9a577" stroke-width="0.8" />
<line x1="129.88" y1="368.3" x2="129.88" y2="378.3" stroke="#c9a577" stroke-width="0.8" />
<line x1="128.28" y1="368.3" x2="131.47" y2="368.3" stroke="#c9a577" stroke-width="0.8" />
<line x1="128.28" y1="378.3" x2="131.47" y2="378.3" stroke="#c9a577" stroke-width="0.8" />
<line x1="135.21" y1="377.5" x2="135.21" y2="385.5" stroke="#c9a577" stroke-width="0.8" />
<line x1="133.61" y1="377.5" x2="136.81" y2="377.5" stroke="#c9a577" stroke-width="0.8" />
<line x1="133.61" y1="385.5" x2="136.81" y2="385.5" stroke="#c9a577" stroke-width="0.8" />
<line x1="140.53" y1="380.5" x2="140.53" y2="388.5" stroke="#c9a577" stroke-width="0.8" />
<line x1="138.94" y1="380.5" x2="142.13" y2="380.5" stroke="#c9a577" stroke-width="0.8" />
<line x1="138.94" y1="388.5" x2="142.13" y2="388.5" stroke="#c9a577" stroke-width="0.8" />
<line x1="145.87" y1="385" x2="145.87" y2="393" stroke="#c9a577" stroke-width="0.8" />
<line x1="144.27" y1="385" x2="147.47" y2="385" stroke="#c9a577" stroke-width="0.8" />
<line x1="144.27" y1="393" x2="147.47" y2="393" stroke="#c9a577" stroke-width="0.8" />
<line x1="151.19" y1="385.2" x2="151.19" y2="393.2" stroke="#c9a577" stroke-width="0.8" />
<line x1="149.59" y1="385.2" x2="152.79" y2="385.2" stroke="#c9a577" stroke-width="0.8" />
<line x1="149.59" y1="393.2" x2="152.79" y2="393.2" stroke="#c9a577" stroke-width="0.8" />
<line x1="156.53" y1="392.5" x2="156.53" y2="401.5" stroke="#c9a577" stroke-width="0.8" />
<line x1="154.93" y1="392.5" x2="158.12" y2="392.5" stroke="#c9a577" stroke-width="0.8" />
<line x1="154.93" y1="401.5" x2="158.12" y2="401.5" stroke="#c9a577" stroke-width="0.8" />
<line x1="161.85" y1="380.8" x2="161.85" y2="389.8" stroke="#c9a577" stroke-width="0.8" />
<line x1="160.25" y1="380.8" x2="163.45" y2="380.8" stroke="#c9a577" stroke-width="0.8" />
<line x1="160.25" y1="389.8" x2="163.45" y2="389.8" stroke="#c9a577" stroke-width="0.8" />
<polyline points="39.27,399.2 44.59,400.3 49.92,399.2 55.26,401.3 60.59,404.1 65.92,408.3 71.25,404.1 76.58,409.7 81.91,411.7 87.23,409.7 92.56,406.9 97.9,400.6 103.22,377.3 108.56,377.3 113.88,377.3 119.22,384.4 124.55,379.4 129.88,373.3 135.21,381.5 140.53,384.5 145.87,389 151.19,389.2 156.53,397 161.85,385.3" fill="none" stroke="#a87634" stroke-width="1.25" stroke-linejoin="round" />
<path d="M38.6,430.5 V433.5 H58.5 V430.5" fill="none" stroke="#c0a27a" stroke-width="0.9"/>
<path d="M96.6,430.5 V433.5 H162.7 V430.5" fill="none" stroke="#c0a27a" stroke-width="0.9"/>
<path d="M38.6,435.4 V438.4 H42 V435.4" fill="none" stroke="#f6c896" stroke-width="0.9"/>
<path d="M90.5,435.4 V438.4 H93.8 V435.4" fill="none" stroke="#f6c896" stroke-width="0.9"/>
<path d="M105.3,435.4 V438.4 H131.7 V435.4" fill="none" stroke="#f6c896" stroke-width="0.9"/>
<path d="M152.2,435.4 V438.4 H163 V435.4" fill="none" stroke="#f6c896" stroke-width="0.9"/>
<path d="M100.2,441.5 V444.5 H104.6 V441.5" fill="none" stroke="#f06464" stroke-width="0.9"/>
<path d="M137.4,441.5 V444.5 H151.9 V441.5" fill="none" stroke="#f06464" stroke-width="0.9"/>
<line x1="110" y1="345" x2="117.8" y2="345" stroke="#b08040" stroke-width="1.0" />
<text x="122.6" y="347.4" font-size="7.2" text-anchor="start" fill="#1a1a1a" font-weight="normal" letter-spacing="0.15" >Pre-day 63</text>
<line x1="110" y1="354.2" x2="117.8" y2="354.2" stroke="#f5c08a" stroke-width="1.0" />
<text x="122.6" y="356.6" font-size="7.2" text-anchor="start" fill="#1a1a1a" font-weight="normal" letter-spacing="0.15" >Post-day 63</text>
<line x1="110" y1="363.4" x2="117.8" y2="363.4" stroke="#1e1e1e" stroke-width="1.0" />
<text x="122.6" y="365.8" font-size="7.2" text-anchor="start" fill="#1a1a1a" font-weight="normal" letter-spacing="0.15" >Ctrl</text>
<text x="0" y="338.7" font-size="12.4" text-anchor="start" fill="#000" font-weight="bold" stroke="#000" stroke-width="0.55">k</text>
</svg>
</body></html>
